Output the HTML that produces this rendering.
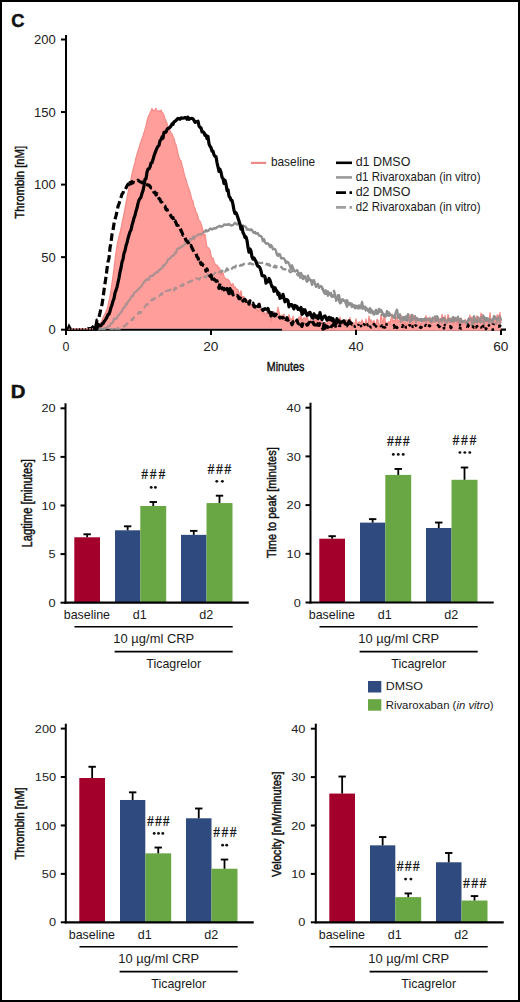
<!DOCTYPE html>
<html><head><meta charset="utf-8"><style>
html,body{margin:0;padding:0;background:#fff;width:520px;height:1002px;overflow:hidden}
svg{display:block}
svg{font-family:"Liberation Sans",sans-serif}
</style></head><body>
<svg width="520" height="1002" viewBox="0 0 520 1002">
<rect x="1" y="1" width="518" height="1000" fill="none" stroke="#000" stroke-width="2"/>
<text transform="translate(11.17,27.30) scale(0.9636,1)" font-size="19" font-weight="bold" fill="#111" stroke="#111" stroke-width="0.5">C</text>
<text transform="translate(10.78,397.90) scale(1.0699,1)" font-size="19" font-weight="bold" fill="#111" stroke="#111" stroke-width="0.5">D</text>
<defs><clipPath id="cc"><rect x="66" y="30" width="445" height="299.7"/></clipPath><clipPath id="cc2"><rect x="66" y="30" width="445" height="301"/></clipPath></defs>
<line x1="65.00" y1="329.70" x2="506.00" y2="329.70" stroke="#000" stroke-width="2.2"/>
<g clip-path="url(#cc)">
<path d="M66.0,330.2 L67.0,330.2 L68.0,330.2 L69.0,330.2 L70.0,330.2 L71.0,330.2 L72.0,330.2 L73.0,330.2 L74.0,330.2 L75.0,330.2 L76.0,330.2 L77.0,330.2 L78.0,330.2 L79.0,330.2 L80.0,330.2 L81.0,330.2 L82.0,330.2 L83.0,330.2 L84.0,330.2 L85.0,330.2 L86.0,330.2 L87.0,330.2 L88.0,329.6 L89.0,329.7 L90.0,329.5 L91.0,329.5 L92.0,329.6 L93.0,329.3 L94.0,329.4 L95.0,329.3 L96.0,329.4 L97.0,329.3 L98.0,329.4 L99.0,329.3 L100.0,329.3 L101.0,329.2 L102.0,329.0 L103.0,329.0 L104.0,328.3 L105.0,328.4 L106.0,327.7 L107.0,327.1 L108.0,326.7 L109.0,326.0 L110.0,325.9 L111.0,323.4 L112.0,323.3 L113.0,322.1 L114.0,318.6 L115.0,318.8 L116.0,318.9 L117.0,317.8 L118.0,315.6 L119.0,315.1 L120.0,313.6 L121.0,312.0 L122.0,311.4 L123.0,308.3 L124.0,307.6 L125.0,306.6 L126.0,303.8 L127.0,304.4 L128.0,301.5 L129.0,300.5 L130.0,299.7 L131.0,297.1 L132.0,295.9 L133.0,296.1 L134.0,293.0 L135.0,292.3 L136.0,291.7 L137.0,290.6 L138.0,289.5 L139.0,288.3 L140.0,287.9 L141.0,286.6 L142.0,285.3 L143.0,283.4 L144.0,282.4 L145.0,280.6 L146.0,280.7 L147.0,278.8 L148.0,279.8 L149.0,279.7 L150.0,276.0 L151.0,276.3 L152.0,275.7 L153.0,275.8 L154.0,273.9 L155.0,273.6 L156.0,272.6 L157.0,271.9 L158.0,272.2 L159.0,269.7 L160.0,269.6 L161.0,268.7 L162.0,268.1 L163.0,265.5 L164.0,266.1 L165.0,264.5 L166.0,263.5 L167.0,261.9 L168.0,259.5 L169.0,258.9 L170.0,258.8 L171.0,257.1 L172.0,255.8 L173.0,256.0 L174.0,255.2 L175.0,252.6 L176.0,253.0 L177.0,249.3 L178.0,248.4 L179.0,248.6 L180.0,247.9 L181.0,246.6 L182.0,246.7 L183.0,245.6 L184.0,245.4 L185.0,244.2 L186.0,242.3 L187.0,242.8 L188.0,242.0 L189.0,242.5 L190.0,238.8 L191.0,239.8 L192.0,238.8 L193.0,236.7 L194.0,239.0 L195.0,236.4 L196.0,236.3 L197.0,235.5 L198.0,235.1 L199.0,234.1 L200.0,234.0 L201.0,234.7 L202.0,233.7 L203.0,232.6 L204.0,231.8 L205.0,231.6 L206.0,230.2 L207.0,231.3 L208.0,230.7 L209.0,230.2 L210.0,228.7 L211.0,228.8 L212.0,229.4 L213.0,228.9 L214.0,228.0 L215.0,228.4 L216.0,228.4 L217.0,227.0 L218.0,226.8 L219.0,226.3 L220.0,225.8 L221.0,226.8 L222.0,226.4 L223.0,226.0 L224.0,224.7 L225.0,224.5 L226.0,225.0 L227.0,224.6 L228.0,224.8 L229.0,224.0 L230.0,224.8 L231.0,225.5 L232.0,225.2 L233.0,225.1 L234.0,223.9 L235.0,222.8 L236.0,223.5 L237.0,224.5 L238.0,223.8 L239.0,224.0 L240.0,224.1 L241.0,225.5 L242.0,225.7 L243.0,225.5 L244.0,226.0 L245.0,226.5 L246.0,227.1 L247.0,229.7 L248.0,229.1 L249.0,229.8 L250.0,230.1 L251.0,229.4 L252.0,230.0 L253.0,232.0 L254.0,232.9 L255.0,231.9 L256.0,233.7 L257.0,233.3 L258.0,233.4 L259.0,235.6 L260.0,235.8 L261.0,236.1 L262.0,237.7 L263.0,241.1 L264.0,239.1 L265.0,242.4 L266.0,243.6 L267.0,243.0 L268.0,243.5 L269.0,244.7 L270.0,247.2 L271.0,244.9 L272.0,246.6 L273.0,249.3 L274.0,248.8 L275.0,249.1 L276.0,251.0 L277.0,255.1 L278.0,255.8 L279.0,253.9 L280.0,254.4 L281.0,258.1 L282.0,258.4 L283.0,258.0 L284.0,258.5 L285.0,260.2 L286.0,263.1 L287.0,261.7 L288.0,262.2 L289.0,263.7 L290.0,266.5 L291.0,269.1 L292.0,265.4 L293.0,267.9 L294.0,270.7 L295.0,271.4 L296.0,270.9 L297.0,270.1 L298.0,272.1 L299.0,273.5 L300.0,273.6 L301.0,273.0 L302.0,275.7 L303.0,275.9 L304.0,277.4 L305.0,276.5 L306.0,279.7 L307.0,281.7 L308.0,280.3 L309.0,278.4 L310.0,279.6 L311.0,281.0 L312.0,280.5 L313.0,281.8 L314.0,280.2 L315.0,284.1 L316.0,285.4 L317.0,284.5 L318.0,283.9 L319.0,287.9 L320.0,287.0 L321.0,286.0 L322.0,287.1 L323.0,289.6 L324.0,290.8 L325.0,293.8 L326.0,290.5 L327.0,292.9 L328.0,295.8 L329.0,293.5 L330.0,294.0 L331.0,293.2 L332.0,295.8 L333.0,296.1 L334.0,295.2 L335.0,296.1 L336.0,299.4 L337.0,299.1 L338.0,296.5 L339.0,295.1 L340.0,301.2 L341.0,301.7 L342.0,299.5 L343.0,299.4 L344.0,301.0 L345.0,300.7 L346.0,304.3 L347.0,300.2 L348.0,302.6 L349.0,304.8 L350.0,303.9 L351.0,304.4 L352.0,307.0 L353.0,305.8 L354.0,305.2 L355.0,308.3 L356.0,305.8 L357.0,307.4 L358.0,305.9 L359.0,305.4 L360.0,308.2 L361.0,307.2 L362.0,301.9 L363.0,307.6 L364.0,307.6 L365.0,308.5 L366.0,307.9 L367.0,308.6 L368.0,310.9 L369.0,309.3 L370.0,308.2 L371.0,309.9 L372.0,310.9 L373.0,312.5 L374.0,313.1 L375.0,312.5 L376.0,309.8 L377.0,313.7 L378.0,313.6 L379.0,308.8 L380.0,311.9 L381.0,309.9 L382.0,311.8 L383.0,314.0 L384.0,314.7 L385.0,316.6 L386.0,316.3 L387.0,311.0 L388.0,312.7 L389.0,312.5 L390.0,315.0 L391.0,314.9 L392.0,315.7 L393.0,317.2 L394.0,317.5 L395.0,315.4 L396.0,311.8 L397.0,309.7 L398.0,316.4 L399.0,315.9 L400.0,314.5 L401.0,321.9 L402.0,318.7 L403.0,317.1 L404.0,317.0 L405.0,320.0 L406.0,316.3 L407.0,320.7 L408.0,314.1 L409.0,319.3 L410.0,322.5 L411.0,317.9 L412.0,314.8 L413.0,317.7 L414.0,318.4 L415.0,316.2 L416.0,322.3 L417.0,319.5 L418.0,319.6 L419.0,319.8 L420.0,319.2 L421.0,318.9 L422.0,321.4 L423.0,319.2 L424.0,319.1 L425.0,319.5 L426.0,321.5 L427.0,319.2 L428.0,318.7 L429.0,320.2 L430.0,320.7 L431.0,322.0 L432.0,319.4 L433.0,317.6 L434.0,319.7 L435.0,321.7 L436.0,320.6 L437.0,316.2 L438.0,318.0 L439.0,322.6 L440.0,320.3 L441.0,319.2 L442.0,322.3 L443.0,320.0 L444.0,317.9 L445.0,321.4 L446.0,321.9 L447.0,322.6 L448.0,319.4 L449.0,319.1 L450.0,319.5 L451.0,319.0 L452.0,321.6 L453.0,317.1 L454.0,320.7 L455.0,317.8 L456.0,320.4 L457.0,319.6 L458.0,319.7 L459.0,322.8 L460.0,319.4 L461.0,319.2 L462.0,322.0 L463.0,321.9 L464.0,321.1 L465.0,320.9 L466.0,323.5 L467.0,323.2 L468.0,320.2 L469.0,318.4 L470.0,319.8 L471.0,318.5 L472.0,323.8 L473.0,322.0 L474.0,316.3 L475.0,319.5 L476.0,320.9 L477.0,319.9 L478.0,321.8 L479.0,321.5 L480.0,322.1 L481.0,317.0 L482.0,317.4 L483.0,315.4 L484.0,324.0 L485.0,317.8 L486.0,320.3 L487.0,318.2 L488.0,318.8 L489.0,322.7 L490.0,320.0 L491.0,320.6 L492.0,323.9 L493.0,321.2 L494.0,316.0 L495.0,316.8 L496.0,319.2 L497.0,319.0 L498.0,317.9 L499.0,316.7 L500.0,316.9 L501.0,320.6" fill="none" stroke="#9a9a9a" stroke-width="2.2" stroke-linejoin="round"/>
<path d="M66.0,330.2 L67.0,330.2 L68.0,330.2 L69.0,330.2 L70.0,330.2 L71.0,330.2 L72.0,330.2 L73.0,330.2 L74.0,330.2 L75.0,330.2 L76.0,330.2 L77.0,330.2 L78.0,330.2 L79.0,330.2 L80.0,330.2 L81.0,330.2 L82.0,330.2 L83.0,330.2 L84.0,330.2 L85.0,330.2 L86.0,330.2 L87.0,330.2 L88.0,329.6 L89.0,329.3 L90.0,329.3 L91.0,329.1 L92.0,329.2 L93.0,329.2 L94.0,329.1 L95.0,329.4 L96.0,329.4 L97.0,329.5 L98.0,329.5 L99.0,329.4 L100.0,329.4 L101.0,329.5 L102.0,329.3 L103.0,329.2 L104.0,329.4 L105.0,329.3 L106.0,329.3 L107.0,329.4 L108.0,329.6 L109.0,329.3 L110.0,329.2 L111.0,329.0 L112.0,329.3 L113.0,330.8 L114.0,327.0 L115.0,329.5 L116.0,329.2 L117.0,328.7 L118.0,327.9 L119.0,329.9 L120.0,328.8 L121.0,327.7 L122.0,327.5 L123.0,326.4 L124.0,326.5 L125.0,325.8 L126.0,325.2 L127.0,323.4 L128.0,323.5 L129.0,323.2 L130.0,321.0 L131.0,321.0 L132.0,318.8 L133.0,319.6 L134.0,317.2 L135.0,316.4 L136.0,316.1 L137.0,315.5 L138.0,313.7 L139.0,311.9 L140.0,313.1 L141.0,312.2 L142.0,309.7 L143.0,308.9 L144.0,307.7 L145.0,306.7 L146.0,305.3 L147.0,304.1 L148.0,304.2 L149.0,303.6 L150.0,303.8 L151.0,300.9 L152.0,299.3 L153.0,300.0 L154.0,298.8 L155.0,298.2 L156.0,297.3 L157.0,296.1 L158.0,295.8 L159.0,296.3 L160.0,295.3 L161.0,293.9 L162.0,294.6 L163.0,291.6 L164.0,292.6 L165.0,292.6 L166.0,291.0 L167.0,290.7 L168.0,290.3 L169.0,290.6 L170.0,290.0 L171.0,289.4 L172.0,288.6 L173.0,288.4 L174.0,290.7 L175.0,287.7 L176.0,288.9 L177.0,287.1 L178.0,288.1 L179.0,287.6 L180.0,286.7 L181.0,285.5 L182.0,284.6 L183.0,285.8 L184.0,283.7 L185.0,283.2 L186.0,283.7 L187.0,284.2 L188.0,282.7 L189.0,282.0 L190.0,281.3 L191.0,281.6 L192.0,280.6 L193.0,279.5 L194.0,279.2 L195.0,280.0 L196.0,278.3 L197.0,278.4 L198.0,278.9 L199.0,279.6 L200.0,278.2 L201.0,277.8 L202.0,278.8 L203.0,276.4 L204.0,276.4 L205.0,277.2 L206.0,277.0 L207.0,276.3 L208.0,273.8 L209.0,275.9 L210.0,275.2 L211.0,274.9 L212.0,275.0 L213.0,275.3 L214.0,274.1 L215.0,273.1 L216.0,270.7 L217.0,272.2 L218.0,272.5 L219.0,272.3 L220.0,271.6 L221.0,272.3 L222.0,270.6 L223.0,271.8 L224.0,269.9 L225.0,271.5 L226.0,270.7 L227.0,268.4 L228.0,270.1 L229.0,267.9 L230.0,268.1 L231.0,269.3 L232.0,268.6 L233.0,267.4 L234.0,266.9 L235.0,267.4 L236.0,265.7 L237.0,266.9 L238.0,266.2 L239.0,266.6 L240.0,265.7 L241.0,264.8 L242.0,265.4 L243.0,264.8 L244.0,263.8 L245.0,263.8 L246.0,263.7 L247.0,264.3 L248.0,263.1 L249.0,264.0 L250.0,263.1 L251.0,263.6 L252.0,264.2 L253.0,264.4 L254.0,262.9 L255.0,263.7 L256.0,263.2 L257.0,261.9 L258.0,262.5 L259.0,262.9 L260.0,263.0 L261.0,263.0 L262.0,262.9 L263.0,262.5 L264.0,262.9 L265.0,262.6 L266.0,264.3 L267.0,263.8 L268.0,265.0 L269.0,264.2 L270.0,265.9 L271.0,264.4 L272.0,264.6 L273.0,266.2 L274.0,267.2 L275.0,265.7 L276.0,267.6 L277.0,266.2 L278.0,266.6 L279.0,267.2 L280.0,266.2 L281.0,266.9 L282.0,267.8 L283.0,269.1 L284.0,269.1 L285.0,269.1 L286.0,270.0 L287.0,269.2 L288.0,271.0 L289.0,270.3 L290.0,272.2 L291.0,271.7 L292.0,271.3 L293.0,270.8 L294.0,271.5 L295.0,273.1 L296.0,272.8 L297.0,273.9 L298.0,275.3 L299.0,275.3 L300.0,276.4 L301.0,280.4 L302.0,277.9 L303.0,279.1 L304.0,277.6 L305.0,276.7 L306.0,279.6 L307.0,278.0 L308.0,275.6 L309.0,282.0 L310.0,282.2 L311.0,280.5 L312.0,284.9 L313.0,283.2 L314.0,283.2 L315.0,283.0 L316.0,287.0 L317.0,285.2 L318.0,285.8 L319.0,286.8 L320.0,287.2 L321.0,286.6 L322.0,288.9 L323.0,289.4 L324.0,292.6 L325.0,289.4 L326.0,293.9 L327.0,292.5 L328.0,291.5 L329.0,294.2 L330.0,291.7 L331.0,295.7 L332.0,296.9 L333.0,296.7 L334.0,290.8 L335.0,294.7 L336.0,300.9 L337.0,298.7 L338.0,295.0 L339.0,300.3 L340.0,303.3 L341.0,302.6 L342.0,302.0 L343.0,302.5 L344.0,303.9 L345.0,303.1 L346.0,303.1 L347.0,306.8 L348.0,304.0 L349.0,305.8 L350.0,303.0 L351.0,303.7 L352.0,303.9 L353.0,307.0 L354.0,304.8 L355.0,304.8 L356.0,306.6 L357.0,307.7 L358.0,308.4 L359.0,307.8 L360.0,310.0 L361.0,307.9 L362.0,305.1 L363.0,310.5 L364.0,310.6 L365.0,306.5 L366.0,311.3 L367.0,312.3 L368.0,311.1 L369.0,312.3 L370.0,309.6 L371.0,312.8 L372.0,309.4 L373.0,313.4 L374.0,314.6 L375.0,310.7 L376.0,313.7 L377.0,312.1 L378.0,311.0 L379.0,310.4 L380.0,314.2 L381.0,313.8 L382.0,315.0 L383.0,314.3 L384.0,316.0 L385.0,313.6 L386.0,314.6 L387.0,311.5 L388.0,315.3 L389.0,316.0 L390.0,315.8 L391.0,316.6 L392.0,317.9 L393.0,315.7 L394.0,316.2 L395.0,318.4 L396.0,317.0 L397.0,316.1 L398.0,319.0 L399.0,316.1 L400.0,318.8 L401.0,316.8 L402.0,318.1 L403.0,319.8 L404.0,320.1 L405.0,318.8 L406.0,319.3 L407.0,320.1 L408.0,320.4 L409.0,320.6 L410.0,318.5 L411.0,320.9 L412.0,318.7 L413.0,319.4 L414.0,320.4 L415.0,321.0 L416.0,318.6 L417.0,318.0 L418.0,320.0 L419.0,320.3 L420.0,320.6 L421.0,317.8 L422.0,320.7 L423.0,320.8 L424.0,320.3 L425.0,318.4 L426.0,318.8 L427.0,320.1 L428.0,318.8 L429.0,317.3 L430.0,319.7 L431.0,321.4 L432.0,322.0 L433.0,320.2 L434.0,319.6 L435.0,316.5 L436.0,320.8 L437.0,320.0 L438.0,318.6 L439.0,318.6 L440.0,318.9 L441.0,319.8 L442.0,318.7 L443.0,318.2 L444.0,318.4 L445.0,319.6 L446.0,321.0 L447.0,319.4 L448.0,320.9 L449.0,318.8 L450.0,322.1 L451.0,318.5 L452.0,321.1 L453.0,321.3 L454.0,321.3 L455.0,317.2 L456.0,320.7 L457.0,318.7 L458.0,316.7 L459.0,321.3 L460.0,319.1 L461.0,322.3 L462.0,322.2 L463.0,321.1 L464.0,320.1 L465.0,320.3 L466.0,322.3 L467.0,323.1 L468.0,322.0 L469.0,319.9 L470.0,319.7 L471.0,320.2 L472.0,325.1 L473.0,324.1 L474.0,323.0 L475.0,321.1 L476.0,324.2 L477.0,321.5 L478.0,317.2 L479.0,320.2 L480.0,318.6 L481.0,322.6 L482.0,321.0 L483.0,321.0 L484.0,316.9 L485.0,319.2 L486.0,319.2 L487.0,323.2 L488.0,322.3 L489.0,320.2 L490.0,319.4 L491.0,319.6 L492.0,319.9 L493.0,319.9 L494.0,318.6 L495.0,322.3 L496.0,323.8 L497.0,321.7 L498.0,315.9 L499.0,320.6 L500.0,323.0 L501.0,321.2" fill="none" stroke="#a0a0a0" stroke-width="2.2" stroke-dasharray="7 4" stroke-linejoin="round"/>
</g>
<path d="M66.0,330.2 L67.0,330.2 L68.0,330.2 L69.0,330.2 L70.0,330.2 L71.0,330.2 L72.0,330.2 L73.0,330.2 L74.0,330.2 L75.0,330.2 L76.0,330.2 L77.0,330.2 L78.0,330.2 L79.0,330.2 L80.0,330.2 L81.0,330.2 L82.0,330.2 L83.0,330.2 L84.0,330.2 L85.0,330.2 L86.0,330.2 L87.0,330.2 L88.0,329.4 L89.0,328.7 L90.0,329.0 L91.0,329.0 L92.0,328.3 L93.0,328.5 L94.0,328.8 L95.0,327.5 L96.0,327.6 L97.0,327.3 L98.0,325.7 L99.0,324.7 L100.0,323.9 L101.0,322.5 L102.0,320.6 L103.0,317.8 L104.0,315.8 L105.0,313.8 L106.0,311.3 L107.0,309.1 L108.0,305.3 L109.0,300.9 L110.0,296.3 L111.0,290.0 L112.0,283.2 L113.0,276.2 L114.0,268.3 L115.0,260.0 L116.0,252.1 L117.0,245.9 L118.0,240.8 L119.0,236.3 L120.0,232.6 L121.0,228.5 L122.0,223.3 L123.0,218.6 L124.0,213.5 L125.0,208.2 L126.0,203.1 L127.0,198.2 L128.0,192.7 L129.0,188.0 L130.0,183.4 L131.0,178.9 L132.0,174.1 L133.0,169.8 L134.0,165.9 L135.0,162.4 L136.0,157.7 L137.0,154.2 L138.0,150.9 L139.0,148.0 L140.0,144.3 L141.0,141.7 L142.0,138.4 L143.0,135.9 L144.0,132.6 L145.0,129.3 L146.0,125.7 L147.0,121.1 L148.0,117.6 L149.0,115.3 L150.0,113.2 L151.0,111.0 L152.0,108.6 L153.0,110.8 L154.0,110.4 L155.0,109.8 L156.0,108.4 L157.0,110.7 L158.0,111.5 L159.0,110.6 L160.0,111.4 L161.0,110.1 L162.0,112.0 L163.0,113.3 L164.0,115.3 L165.0,118.7 L166.0,120.8 L167.0,123.5 L168.0,125.9 L169.0,128.2 L170.0,130.5 L171.0,132.8 L172.0,133.9 L173.0,136.7 L174.0,138.3 L175.0,142.8 L176.0,144.8 L177.0,148.7 L178.0,153.6 L179.0,157.5 L180.0,159.6 L181.0,160.7 L182.0,165.2 L183.0,168.4 L184.0,173.1 L185.0,176.9 L186.0,179.5 L187.0,183.4 L188.0,186.4 L189.0,189.0 L190.0,192.2 L191.0,195.9 L192.0,199.9 L193.0,201.1 L194.0,206.8 L195.0,208.1 L196.0,212.3 L197.0,213.5 L198.0,217.0 L199.0,220.7 L200.0,221.0 L201.0,223.6 L202.0,226.9 L203.0,230.1 L204.0,235.8 L205.0,234.2 L206.0,241.1 L207.0,247.2 L208.0,247.5 L209.0,248.7 L210.0,250.1 L211.0,255.1 L212.0,258.7 L213.0,257.9 L214.0,261.7 L215.0,264.0 L216.0,264.9 L217.0,265.0 L218.0,266.7 L219.0,267.5 L220.0,269.3 L221.0,275.3 L222.0,272.3 L223.0,272.7 L224.0,276.4 L225.0,278.1 L226.0,279.2 L227.0,278.9 L228.0,279.5 L229.0,280.6 L230.0,282.3 L231.0,285.8 L232.0,283.9 L233.0,283.6 L234.0,287.2 L235.0,286.7 L236.0,288.5 L237.0,289.3 L238.0,289.5 L239.0,293.1 L240.0,295.4 L241.0,290.6 L242.0,297.3 L243.0,296.6 L244.0,296.7 L245.0,300.0 L246.0,299.8 L247.0,300.3 L248.0,300.0 L249.0,301.4 L250.0,302.8 L251.0,304.2 L252.0,306.6 L253.0,305.7 L254.0,307.3 L255.0,307.0 L256.0,309.0 L257.0,308.8 L258.0,311.5 L259.0,310.4 L260.0,303.2 L261.0,310.6 L262.0,310.3 L263.0,314.0 L264.0,312.1 L265.0,314.5 L266.0,314.5 L267.0,309.9 L268.0,312.6 L269.0,313.7 L270.0,311.3 L271.0,322.3 L272.0,315.8 L273.0,311.8 L274.0,311.8 L275.0,315.8 L276.0,314.9 L277.0,312.5 L278.0,307.2 L279.0,311.6 L280.0,316.1 L281.0,318.5 L282.0,314.8 L283.0,320.7 L284.0,313.9 L285.0,319.9 L286.0,316.7 L287.0,316.6 L288.0,321.3 L289.0,314.5 L290.0,319.1 L291.0,318.6 L292.0,322.5 L293.0,316.2 L294.0,320.7 L295.0,321.1 L296.0,320.1 L297.0,319.9 L298.0,319.9 L299.0,316.9 L300.0,319.3 L301.0,314.9 L302.0,323.0 L303.0,318.8 L304.0,317.5 L305.0,318.4 L306.0,320.7 L307.0,314.4 L308.0,319.6 L309.0,322.8 L310.0,321.3 L311.0,319.0 L312.0,323.3 L313.0,321.3 L314.0,320.7 L315.0,319.0 L316.0,323.3 L317.0,318.9 L318.0,319.7 L319.0,321.6 L320.0,320.9 L321.0,320.3 L322.0,320.0 L323.0,326.8 L324.0,323.5 L325.0,325.0 L326.0,322.2 L327.0,328.1 L328.0,320.0 L329.0,318.9 L330.0,319.7 L331.0,323.2 L332.0,320.8 L333.0,322.9 L334.0,321.0 L335.0,322.3 L336.0,324.8 L337.0,320.0 L338.0,324.8 L339.0,323.5 L340.0,317.2 L341.0,320.5 L342.0,323.8 L343.0,323.1 L344.0,326.1 L345.0,322.4 L346.0,319.6 L347.0,322.2 L348.0,321.9 L349.0,324.8 L350.0,317.5 L351.0,321.5 L352.0,329.2 L353.0,322.3 L354.0,324.4 L355.0,323.7 L356.0,318.8 L357.0,323.2 L358.0,323.7 L359.0,321.9 L360.0,321.9 L361.0,323.8 L362.0,319.9 L363.0,321.8 L364.0,326.5 L365.0,326.5 L366.0,318.8 L367.0,323.9 L368.0,323.8 L369.0,316.2 L370.0,321.5 L371.0,319.7 L372.0,321.3 L373.0,323.8 L374.0,320.3 L375.0,325.3 L376.0,323.4 L377.0,319.3 L378.0,320.1 L379.0,328.7 L380.0,323.4 L381.0,314.5 L382.0,319.6 L383.0,323.9 L384.0,316.5 L385.0,318.4 L386.0,327.1 L387.0,322.2 L388.0,323.9 L389.0,321.3 L390.0,324.4 L391.0,319.1 L392.0,314.1 L393.0,322.0 L394.0,320.4 L395.0,321.4 L396.0,317.1 L397.0,316.8 L398.0,322.0 L399.0,320.7 L400.0,322.5 L401.0,315.4 L402.0,320.8 L403.0,321.1 L404.0,325.7 L405.0,321.0 L406.0,325.6 L407.0,323.1 L408.0,319.7 L409.0,317.4 L410.0,314.7 L411.0,322.1 L412.0,324.3 L413.0,317.3 L414.0,315.4 L415.0,319.5 L416.0,320.5 L417.0,319.6 L418.0,318.3 L419.0,319.7 L420.0,322.4 L421.0,325.5 L422.0,322.6 L423.0,319.8 L424.0,321.6 L425.0,319.8 L426.0,315.7 L427.0,321.6 L428.0,318.0 L429.0,322.2 L430.0,317.2 L431.0,323.9 L432.0,322.2 L433.0,320.5 L434.0,318.1 L435.0,316.4 L436.0,317.3 L437.0,319.9 L438.0,321.4 L439.0,320.4 L440.0,318.5 L441.0,320.6 L442.0,314.4 L443.0,318.6 L444.0,321.1 L445.0,315.6 L446.0,320.2 L447.0,321.8 L448.0,314.3 L449.0,318.7 L450.0,318.2 L451.0,321.1 L452.0,319.4 L453.0,322.1 L454.0,323.8 L455.0,318.4 L456.0,317.5 L457.0,324.3 L458.0,319.4 L459.0,322.1 L460.0,321.2 L461.0,317.9 L462.0,322.0 L463.0,324.4 L464.0,324.3 L465.0,319.5 L466.0,320.8 L467.0,322.7 L468.0,324.1 L469.0,319.6 L470.0,315.0 L471.0,322.1 L472.0,316.9 L473.0,322.0 L474.0,320.3 L475.0,324.7 L476.0,318.5 L477.0,315.7 L478.0,323.0 L479.0,319.2 L480.0,320.7 L481.0,313.1 L482.0,314.5 L483.0,326.5 L484.0,319.5 L485.0,321.2 L486.0,320.6 L487.0,323.3 L488.0,321.0 L489.0,322.3 L490.0,312.7 L491.0,321.7 L492.0,319.1 L493.0,323.6 L494.0,323.1 L495.0,320.2 L496.0,320.2 L497.0,315.2 L498.0,315.0 L499.0,318.1 L500.0,312.4 L501.0,323.1 L501.0,330.8 L282,330.8 L282,328.6 L66,328.6 Z" fill="#ff9e9b" stroke="none"/>
<path d="M66.0,330.2 L67.0,330.2 L68.0,330.2 L69.0,330.2 L70.0,330.2 L71.0,330.2 L72.0,330.2 L73.0,330.2 L74.0,330.2 L75.0,330.2 L76.0,330.2 L77.0,330.2 L78.0,330.2 L79.0,330.2 L80.0,330.2 L81.0,330.2 L82.0,330.2 L83.0,330.2 L84.0,330.2 L85.0,330.2 L86.0,330.2 L87.0,330.2 L88.0,329.4 L89.0,328.7 L90.0,329.0 L91.0,329.0 L92.0,328.3 L93.0,328.5 L94.0,328.8 L95.0,327.5 L96.0,327.6 L97.0,327.3 L98.0,325.7 L99.0,324.7 L100.0,323.9 L101.0,322.5 L102.0,320.6 L103.0,317.8 L104.0,315.8 L105.0,313.8 L106.0,311.3 L107.0,309.1 L108.0,305.3 L109.0,300.9 L110.0,296.3 L111.0,290.0 L112.0,283.2 L113.0,276.2 L114.0,268.3 L115.0,260.0 L116.0,252.1 L117.0,245.9 L118.0,240.8 L119.0,236.3 L120.0,232.6 L121.0,228.5 L122.0,223.3 L123.0,218.6 L124.0,213.5 L125.0,208.2 L126.0,203.1 L127.0,198.2 L128.0,192.7 L129.0,188.0 L130.0,183.4 L131.0,178.9 L132.0,174.1 L133.0,169.8 L134.0,165.9 L135.0,162.4 L136.0,157.7 L137.0,154.2 L138.0,150.9 L139.0,148.0 L140.0,144.3 L141.0,141.7 L142.0,138.4 L143.0,135.9 L144.0,132.6 L145.0,129.3 L146.0,125.7 L147.0,121.1 L148.0,117.6 L149.0,115.3 L150.0,113.2 L151.0,111.0 L152.0,108.6 L153.0,110.8 L154.0,110.4 L155.0,109.8 L156.0,108.4 L157.0,110.7 L158.0,111.5 L159.0,110.6 L160.0,111.4 L161.0,110.1 L162.0,112.0 L163.0,113.3 L164.0,115.3 L165.0,118.7 L166.0,120.8 L167.0,123.5 L168.0,125.9 L169.0,128.2 L170.0,130.5 L171.0,132.8 L172.0,133.9 L173.0,136.7 L174.0,138.3 L175.0,142.8 L176.0,144.8 L177.0,148.7 L178.0,153.6 L179.0,157.5 L180.0,159.6 L181.0,160.7 L182.0,165.2 L183.0,168.4 L184.0,173.1 L185.0,176.9 L186.0,179.5 L187.0,183.4 L188.0,186.4 L189.0,189.0 L190.0,192.2 L191.0,195.9 L192.0,199.9 L193.0,201.1 L194.0,206.8 L195.0,208.1 L196.0,212.3 L197.0,213.5 L198.0,217.0 L199.0,220.7 L200.0,221.0 L201.0,223.6 L202.0,226.9 L203.0,230.1 L204.0,235.8 L205.0,234.2 L206.0,241.1 L207.0,247.2 L208.0,247.5 L209.0,248.7 L210.0,250.1 L211.0,255.1 L212.0,258.7 L213.0,257.9 L214.0,261.7 L215.0,264.0 L216.0,264.9 L217.0,265.0 L218.0,266.7 L219.0,267.5 L220.0,269.3 L221.0,275.3 L222.0,272.3 L223.0,272.7 L224.0,276.4 L225.0,278.1 L226.0,279.2 L227.0,278.9 L228.0,279.5 L229.0,280.6 L230.0,282.3 L231.0,285.8 L232.0,283.9 L233.0,283.6 L234.0,287.2 L235.0,286.7 L236.0,288.5 L237.0,289.3 L238.0,289.5 L239.0,293.1 L240.0,295.4 L241.0,290.6 L242.0,297.3 L243.0,296.6 L244.0,296.7 L245.0,300.0 L246.0,299.8 L247.0,300.3 L248.0,300.0 L249.0,301.4 L250.0,302.8 L251.0,304.2 L252.0,306.6 L253.0,305.7 L254.0,307.3 L255.0,307.0 L256.0,309.0 L257.0,308.8 L258.0,311.5 L259.0,310.4 L260.0,303.2 L261.0,310.6 L262.0,310.3 L263.0,314.0 L264.0,312.1 L265.0,314.5 L266.0,314.5 L267.0,309.9 L268.0,312.6 L269.0,313.7 L270.0,311.3 L271.0,322.3 L272.0,315.8 L273.0,311.8 L274.0,311.8 L275.0,315.8 L276.0,314.9 L277.0,312.5 L278.0,307.2 L279.0,311.6 L280.0,316.1 L281.0,318.5 L282.0,314.8 L283.0,320.7 L284.0,313.9 L285.0,319.9 L286.0,316.7 L287.0,316.6 L288.0,321.3 L289.0,314.5 L290.0,319.1 L291.0,318.6 L292.0,322.5 L293.0,316.2 L294.0,320.7 L295.0,321.1 L296.0,320.1 L297.0,319.9 L298.0,319.9 L299.0,316.9 L300.0,319.3 L301.0,314.9 L302.0,323.0 L303.0,318.8 L304.0,317.5 L305.0,318.4 L306.0,320.7 L307.0,314.4 L308.0,319.6 L309.0,322.8 L310.0,321.3 L311.0,319.0 L312.0,323.3 L313.0,321.3 L314.0,320.7 L315.0,319.0 L316.0,323.3 L317.0,318.9 L318.0,319.7 L319.0,321.6 L320.0,320.9 L321.0,320.3 L322.0,320.0 L323.0,326.8 L324.0,323.5 L325.0,325.0 L326.0,322.2 L327.0,328.1 L328.0,320.0 L329.0,318.9 L330.0,319.7 L331.0,323.2 L332.0,320.8 L333.0,322.9 L334.0,321.0 L335.0,322.3 L336.0,324.8 L337.0,320.0 L338.0,324.8 L339.0,323.5 L340.0,317.2 L341.0,320.5 L342.0,323.8 L343.0,323.1 L344.0,326.1 L345.0,322.4 L346.0,319.6 L347.0,322.2 L348.0,321.9 L349.0,324.8 L350.0,317.5 L351.0,321.5 L352.0,329.2 L353.0,322.3 L354.0,324.4 L355.0,323.7 L356.0,318.8 L357.0,323.2 L358.0,323.7 L359.0,321.9 L360.0,321.9 L361.0,323.8 L362.0,319.9 L363.0,321.8 L364.0,326.5 L365.0,326.5 L366.0,318.8 L367.0,323.9 L368.0,323.8 L369.0,316.2 L370.0,321.5 L371.0,319.7 L372.0,321.3 L373.0,323.8 L374.0,320.3 L375.0,325.3 L376.0,323.4 L377.0,319.3 L378.0,320.1 L379.0,328.7 L380.0,323.4 L381.0,314.5 L382.0,319.6 L383.0,323.9 L384.0,316.5 L385.0,318.4 L386.0,327.1 L387.0,322.2 L388.0,323.9 L389.0,321.3 L390.0,324.4 L391.0,319.1 L392.0,314.1 L393.0,322.0 L394.0,320.4 L395.0,321.4 L396.0,317.1 L397.0,316.8 L398.0,322.0 L399.0,320.7 L400.0,322.5 L401.0,315.4 L402.0,320.8 L403.0,321.1 L404.0,325.7 L405.0,321.0 L406.0,325.6 L407.0,323.1 L408.0,319.7 L409.0,317.4 L410.0,314.7 L411.0,322.1 L412.0,324.3 L413.0,317.3 L414.0,315.4 L415.0,319.5 L416.0,320.5 L417.0,319.6 L418.0,318.3 L419.0,319.7 L420.0,322.4 L421.0,325.5 L422.0,322.6 L423.0,319.8 L424.0,321.6 L425.0,319.8 L426.0,315.7 L427.0,321.6 L428.0,318.0 L429.0,322.2 L430.0,317.2 L431.0,323.9 L432.0,322.2 L433.0,320.5 L434.0,318.1 L435.0,316.4 L436.0,317.3 L437.0,319.9 L438.0,321.4 L439.0,320.4 L440.0,318.5 L441.0,320.6 L442.0,314.4 L443.0,318.6 L444.0,321.1 L445.0,315.6 L446.0,320.2 L447.0,321.8 L448.0,314.3 L449.0,318.7 L450.0,318.2 L451.0,321.1 L452.0,319.4 L453.0,322.1 L454.0,323.8 L455.0,318.4 L456.0,317.5 L457.0,324.3 L458.0,319.4 L459.0,322.1 L460.0,321.2 L461.0,317.9 L462.0,322.0 L463.0,324.4 L464.0,324.3 L465.0,319.5 L466.0,320.8 L467.0,322.7 L468.0,324.1 L469.0,319.6 L470.0,315.0 L471.0,322.1 L472.0,316.9 L473.0,322.0 L474.0,320.3 L475.0,324.7 L476.0,318.5 L477.0,315.7 L478.0,323.0 L479.0,319.2 L480.0,320.7 L481.0,313.1 L482.0,314.5 L483.0,326.5 L484.0,319.5 L485.0,321.2 L486.0,320.6 L487.0,323.3 L488.0,321.0 L489.0,322.3 L490.0,312.7 L491.0,321.7 L492.0,319.1 L493.0,323.6 L494.0,323.1 L495.0,320.2 L496.0,320.2 L497.0,315.2 L498.0,315.0 L499.0,318.1 L500.0,312.4 L501.0,323.1" fill="none" stroke="#f78a86" stroke-width="1.2" stroke-linejoin="round"/>
<g clip-path="url(#cc)">
<path d="M66.0,330.2 L67.0,330.2 L68.0,330.2 L69.0,330.2 L70.0,330.2 L71.0,330.2 L72.0,330.2 L73.0,330.2 L74.0,330.2 L75.0,330.2 L76.0,330.2 L77.0,330.2 L78.0,330.2 L79.0,330.2 L80.0,330.2 L81.0,330.2 L82.0,330.2 L83.0,330.2 L84.0,330.2 L85.0,330.2 L86.0,330.2 L87.0,330.2 L88.0,329.6 L89.0,329.7 L90.0,329.5 L91.0,329.5 L92.0,329.6 L93.0,329.3 L94.0,329.4 L95.0,329.3 L96.0,329.4 L97.0,329.3 L98.0,329.4 L99.0,329.3 L100.0,329.3 L101.0,329.2 L102.0,329.0 L103.0,329.0 L104.0,328.3 L105.0,328.4 L106.0,327.7 L107.0,327.1 L108.0,326.7 L109.0,326.0 L110.0,325.9 L111.0,323.4 L112.0,323.3 L113.0,322.1 L114.0,318.6 L115.0,318.8 L116.0,318.9 L117.0,317.8 L118.0,315.6 L119.0,315.1 L120.0,313.6 L121.0,312.0 L122.0,311.4 L123.0,308.3 L124.0,307.6 L125.0,306.6 L126.0,303.8 L127.0,304.4 L128.0,301.5 L129.0,300.5 L130.0,299.7 L131.0,297.1 L132.0,295.9 L133.0,296.1 L134.0,293.0 L135.0,292.3 L136.0,291.7 L137.0,290.6 L138.0,289.5 L139.0,288.3 L140.0,287.9 L141.0,286.6 L142.0,285.3 L143.0,283.4 L144.0,282.4 L145.0,280.6 L146.0,280.7 L147.0,278.8 L148.0,279.8 L149.0,279.7 L150.0,276.0 L151.0,276.3 L152.0,275.7 L153.0,275.8 L154.0,273.9 L155.0,273.6 L156.0,272.6 L157.0,271.9 L158.0,272.2 L159.0,269.7 L160.0,269.6 L161.0,268.7 L162.0,268.1 L163.0,265.5 L164.0,266.1 L165.0,264.5 L166.0,263.5 L167.0,261.9 L168.0,259.5 L169.0,258.9 L170.0,258.8 L171.0,257.1 L172.0,255.8 L173.0,256.0 L174.0,255.2 L175.0,252.6 L176.0,253.0 L177.0,249.3 L178.0,248.4 L179.0,248.6 L180.0,247.9 L181.0,246.6 L182.0,246.7 L183.0,245.6 L184.0,245.4 L185.0,244.2 L186.0,242.3 L187.0,242.8 L188.0,242.0 L189.0,242.5 L190.0,238.8 L191.0,239.8 L192.0,238.8 L193.0,236.7 L194.0,239.0 L195.0,236.4 L196.0,236.3 L197.0,235.5 L198.0,235.1 L199.0,234.1 L200.0,234.0 L201.0,234.7 L202.0,233.7 L203.0,232.6 L204.0,231.8 L205.0,231.6 L206.0,230.2 L207.0,231.3 L208.0,230.7 L209.0,230.2 L210.0,228.7 L211.0,228.8 L212.0,229.4 L213.0,228.9 L214.0,228.0 L215.0,228.4 L216.0,228.4 L217.0,227.0 L218.0,226.8 L219.0,226.3 L220.0,225.8 L221.0,226.8 L222.0,226.4 L223.0,226.0 L224.0,224.7 L225.0,224.5 L226.0,225.0 L227.0,224.6 L228.0,224.8 L229.0,224.0 L230.0,224.8 L231.0,225.5 L232.0,225.2 L233.0,225.1 L234.0,223.9 L235.0,222.8 L236.0,223.5 L237.0,224.5 L238.0,223.8 L239.0,224.0 L240.0,224.1 L241.0,225.5 L242.0,225.7 L243.0,225.5 L244.0,226.0 L245.0,226.5 L246.0,227.1 L247.0,229.7 L248.0,229.1 L249.0,229.8 L250.0,230.1 L251.0,229.4 L252.0,230.0 L253.0,232.0 L254.0,232.9 L255.0,231.9 L256.0,233.7 L257.0,233.3 L258.0,233.4 L259.0,235.6 L260.0,235.8 L261.0,236.1 L262.0,237.7 L263.0,241.1 L264.0,239.1 L265.0,242.4 L266.0,243.6 L267.0,243.0 L268.0,243.5 L269.0,244.7 L270.0,247.2 L271.0,244.9 L272.0,246.6 L273.0,249.3 L274.0,248.8 L275.0,249.1 L276.0,251.0 L277.0,255.1 L278.0,255.8 L279.0,253.9 L280.0,254.4 L281.0,258.1 L282.0,258.4 L283.0,258.0 L284.0,258.5 L285.0,260.2 L286.0,263.1 L287.0,261.7 L288.0,262.2 L289.0,263.7 L290.0,266.5 L291.0,269.1 L292.0,265.4 L293.0,267.9 L294.0,270.7 L295.0,271.4 L296.0,270.9 L297.0,270.1 L298.0,272.1 L299.0,273.5 L300.0,273.6 L301.0,273.0 L302.0,275.7 L303.0,275.9 L304.0,277.4 L305.0,276.5 L306.0,279.7 L307.0,281.7 L308.0,280.3 L309.0,278.4 L310.0,279.6 L311.0,281.0 L312.0,280.5 L313.0,281.8 L314.0,280.2 L315.0,284.1 L316.0,285.4 L317.0,284.5 L318.0,283.9 L319.0,287.9 L320.0,287.0 L321.0,286.0 L322.0,287.1 L323.0,289.6 L324.0,290.8 L325.0,293.8 L326.0,290.5 L327.0,292.9 L328.0,295.8 L329.0,293.5 L330.0,294.0 L331.0,293.2 L332.0,295.8 L333.0,296.1 L334.0,295.2 L335.0,296.1 L336.0,299.4 L337.0,299.1 L338.0,296.5 L339.0,295.1 L340.0,301.2 L341.0,301.7 L342.0,299.5 L343.0,299.4 L344.0,301.0 L345.0,300.7 L346.0,304.3 L347.0,300.2 L348.0,302.6 L349.0,304.8 L350.0,303.9 L351.0,304.4 L352.0,307.0 L353.0,305.8 L354.0,305.2 L355.0,308.3 L356.0,305.8 L357.0,307.4 L358.0,305.9 L359.0,305.4 L360.0,308.2 L361.0,307.2 L362.0,301.9 L363.0,307.6 L364.0,307.6 L365.0,308.5 L366.0,307.9 L367.0,308.6 L368.0,310.9 L369.0,309.3 L370.0,308.2 L371.0,309.9 L372.0,310.9 L373.0,312.5 L374.0,313.1 L375.0,312.5 L376.0,309.8 L377.0,313.7 L378.0,313.6 L379.0,308.8 L380.0,311.9 L381.0,309.9 L382.0,311.8 L383.0,314.0 L384.0,314.7 L385.0,316.6 L386.0,316.3 L387.0,311.0 L388.0,312.7 L389.0,312.5 L390.0,315.0 L391.0,314.9 L392.0,315.7 L393.0,317.2 L394.0,317.5 L395.0,315.4 L396.0,311.8 L397.0,309.7 L398.0,316.4 L399.0,315.9 L400.0,314.5 L401.0,321.9 L402.0,318.7 L403.0,317.1 L404.0,317.0 L405.0,320.0 L406.0,316.3 L407.0,320.7 L408.0,314.1 L409.0,319.3 L410.0,322.5 L411.0,317.9 L412.0,314.8 L413.0,317.7 L414.0,318.4 L415.0,316.2 L416.0,322.3 L417.0,319.5 L418.0,319.6 L419.0,319.8 L420.0,319.2 L421.0,318.9 L422.0,321.4 L423.0,319.2 L424.0,319.1 L425.0,319.5 L426.0,321.5 L427.0,319.2 L428.0,318.7 L429.0,320.2 L430.0,320.7 L431.0,322.0 L432.0,319.4 L433.0,317.6 L434.0,319.7 L435.0,321.7 L436.0,320.6 L437.0,316.2 L438.0,318.0 L439.0,322.6 L440.0,320.3 L441.0,319.2 L442.0,322.3 L443.0,320.0 L444.0,317.9 L445.0,321.4 L446.0,321.9 L447.0,322.6 L448.0,319.4 L449.0,319.1 L450.0,319.5 L451.0,319.0 L452.0,321.6 L453.0,317.1 L454.0,320.7 L455.0,317.8 L456.0,320.4 L457.0,319.6 L458.0,319.7 L459.0,322.8 L460.0,319.4 L461.0,319.2 L462.0,322.0 L463.0,321.9 L464.0,321.1 L465.0,320.9 L466.0,323.5 L467.0,323.2 L468.0,320.2 L469.0,318.4 L470.0,319.8 L471.0,318.5 L472.0,323.8 L473.0,322.0 L474.0,316.3 L475.0,319.5 L476.0,320.9 L477.0,319.9 L478.0,321.8 L479.0,321.5 L480.0,322.1 L481.0,317.0 L482.0,317.4 L483.0,315.4 L484.0,324.0 L485.0,317.8 L486.0,320.3 L487.0,318.2 L488.0,318.8 L489.0,322.7 L490.0,320.0 L491.0,320.6 L492.0,323.9 L493.0,321.2 L494.0,316.0 L495.0,316.8 L496.0,319.2 L497.0,319.0 L498.0,317.9 L499.0,316.7 L500.0,316.9 L501.0,320.6" fill="none" stroke="#8c8c8c" stroke-opacity="0.72" stroke-width="2.2" stroke-linejoin="round"/>
<path d="M66.0,330.2 L67.0,330.2 L68.0,330.2 L69.0,330.2 L70.0,330.2 L71.0,330.2 L72.0,330.2 L73.0,330.2 L74.0,330.2 L75.0,330.2 L76.0,330.2 L77.0,330.2 L78.0,330.2 L79.0,330.2 L80.0,330.2 L81.0,330.2 L82.0,330.2 L83.0,330.2 L84.0,330.2 L85.0,330.2 L86.0,330.2 L87.0,330.2 L88.0,329.6 L89.0,329.3 L90.0,329.3 L91.0,329.1 L92.0,329.2 L93.0,329.2 L94.0,329.1 L95.0,329.4 L96.0,329.4 L97.0,329.5 L98.0,329.5 L99.0,329.4 L100.0,329.4 L101.0,329.5 L102.0,329.3 L103.0,329.2 L104.0,329.4 L105.0,329.3 L106.0,329.3 L107.0,329.4 L108.0,329.6 L109.0,329.3 L110.0,329.2 L111.0,329.0 L112.0,329.3 L113.0,330.8 L114.0,327.0 L115.0,329.5 L116.0,329.2 L117.0,328.7 L118.0,327.9 L119.0,329.9 L120.0,328.8 L121.0,327.7 L122.0,327.5 L123.0,326.4 L124.0,326.5 L125.0,325.8 L126.0,325.2 L127.0,323.4 L128.0,323.5 L129.0,323.2 L130.0,321.0 L131.0,321.0 L132.0,318.8 L133.0,319.6 L134.0,317.2 L135.0,316.4 L136.0,316.1 L137.0,315.5 L138.0,313.7 L139.0,311.9 L140.0,313.1 L141.0,312.2 L142.0,309.7 L143.0,308.9 L144.0,307.7 L145.0,306.7 L146.0,305.3 L147.0,304.1 L148.0,304.2 L149.0,303.6 L150.0,303.8 L151.0,300.9 L152.0,299.3 L153.0,300.0 L154.0,298.8 L155.0,298.2 L156.0,297.3 L157.0,296.1 L158.0,295.8 L159.0,296.3 L160.0,295.3 L161.0,293.9 L162.0,294.6 L163.0,291.6 L164.0,292.6 L165.0,292.6 L166.0,291.0 L167.0,290.7 L168.0,290.3 L169.0,290.6 L170.0,290.0 L171.0,289.4 L172.0,288.6 L173.0,288.4 L174.0,290.7 L175.0,287.7 L176.0,288.9 L177.0,287.1 L178.0,288.1 L179.0,287.6 L180.0,286.7 L181.0,285.5 L182.0,284.6 L183.0,285.8 L184.0,283.7 L185.0,283.2 L186.0,283.7 L187.0,284.2 L188.0,282.7 L189.0,282.0 L190.0,281.3 L191.0,281.6 L192.0,280.6 L193.0,279.5 L194.0,279.2 L195.0,280.0 L196.0,278.3 L197.0,278.4 L198.0,278.9 L199.0,279.6 L200.0,278.2 L201.0,277.8 L202.0,278.8 L203.0,276.4 L204.0,276.4 L205.0,277.2 L206.0,277.0 L207.0,276.3 L208.0,273.8 L209.0,275.9 L210.0,275.2 L211.0,274.9 L212.0,275.0 L213.0,275.3 L214.0,274.1 L215.0,273.1 L216.0,270.7 L217.0,272.2 L218.0,272.5 L219.0,272.3 L220.0,271.6 L221.0,272.3 L222.0,270.6 L223.0,271.8 L224.0,269.9 L225.0,271.5 L226.0,270.7 L227.0,268.4 L228.0,270.1 L229.0,267.9 L230.0,268.1 L231.0,269.3 L232.0,268.6 L233.0,267.4 L234.0,266.9 L235.0,267.4 L236.0,265.7 L237.0,266.9 L238.0,266.2 L239.0,266.6 L240.0,265.7 L241.0,264.8 L242.0,265.4 L243.0,264.8 L244.0,263.8 L245.0,263.8 L246.0,263.7 L247.0,264.3 L248.0,263.1 L249.0,264.0 L250.0,263.1 L251.0,263.6 L252.0,264.2 L253.0,264.4 L254.0,262.9 L255.0,263.7 L256.0,263.2 L257.0,261.9 L258.0,262.5 L259.0,262.9 L260.0,263.0 L261.0,263.0 L262.0,262.9 L263.0,262.5 L264.0,262.9 L265.0,262.6 L266.0,264.3 L267.0,263.8 L268.0,265.0 L269.0,264.2 L270.0,265.9 L271.0,264.4 L272.0,264.6 L273.0,266.2 L274.0,267.2 L275.0,265.7 L276.0,267.6 L277.0,266.2 L278.0,266.6 L279.0,267.2 L280.0,266.2 L281.0,266.9 L282.0,267.8 L283.0,269.1 L284.0,269.1 L285.0,269.1 L286.0,270.0 L287.0,269.2 L288.0,271.0 L289.0,270.3 L290.0,272.2 L291.0,271.7 L292.0,271.3 L293.0,270.8 L294.0,271.5 L295.0,273.1 L296.0,272.8 L297.0,273.9 L298.0,275.3 L299.0,275.3 L300.0,276.4 L301.0,280.4 L302.0,277.9 L303.0,279.1 L304.0,277.6 L305.0,276.7 L306.0,279.6 L307.0,278.0 L308.0,275.6 L309.0,282.0 L310.0,282.2 L311.0,280.5 L312.0,284.9 L313.0,283.2 L314.0,283.2 L315.0,283.0 L316.0,287.0 L317.0,285.2 L318.0,285.8 L319.0,286.8 L320.0,287.2 L321.0,286.6 L322.0,288.9 L323.0,289.4 L324.0,292.6 L325.0,289.4 L326.0,293.9 L327.0,292.5 L328.0,291.5 L329.0,294.2 L330.0,291.7 L331.0,295.7 L332.0,296.9 L333.0,296.7 L334.0,290.8 L335.0,294.7 L336.0,300.9 L337.0,298.7 L338.0,295.0 L339.0,300.3 L340.0,303.3 L341.0,302.6 L342.0,302.0 L343.0,302.5 L344.0,303.9 L345.0,303.1 L346.0,303.1 L347.0,306.8 L348.0,304.0 L349.0,305.8 L350.0,303.0 L351.0,303.7 L352.0,303.9 L353.0,307.0 L354.0,304.8 L355.0,304.8 L356.0,306.6 L357.0,307.7 L358.0,308.4 L359.0,307.8 L360.0,310.0 L361.0,307.9 L362.0,305.1 L363.0,310.5 L364.0,310.6 L365.0,306.5 L366.0,311.3 L367.0,312.3 L368.0,311.1 L369.0,312.3 L370.0,309.6 L371.0,312.8 L372.0,309.4 L373.0,313.4 L374.0,314.6 L375.0,310.7 L376.0,313.7 L377.0,312.1 L378.0,311.0 L379.0,310.4 L380.0,314.2 L381.0,313.8 L382.0,315.0 L383.0,314.3 L384.0,316.0 L385.0,313.6 L386.0,314.6 L387.0,311.5 L388.0,315.3 L389.0,316.0 L390.0,315.8 L391.0,316.6 L392.0,317.9 L393.0,315.7 L394.0,316.2 L395.0,318.4 L396.0,317.0 L397.0,316.1 L398.0,319.0 L399.0,316.1 L400.0,318.8 L401.0,316.8 L402.0,318.1 L403.0,319.8 L404.0,320.1 L405.0,318.8 L406.0,319.3 L407.0,320.1 L408.0,320.4 L409.0,320.6 L410.0,318.5 L411.0,320.9 L412.0,318.7 L413.0,319.4 L414.0,320.4 L415.0,321.0 L416.0,318.6 L417.0,318.0 L418.0,320.0 L419.0,320.3 L420.0,320.6 L421.0,317.8 L422.0,320.7 L423.0,320.8 L424.0,320.3 L425.0,318.4 L426.0,318.8 L427.0,320.1 L428.0,318.8 L429.0,317.3 L430.0,319.7 L431.0,321.4 L432.0,322.0 L433.0,320.2 L434.0,319.6 L435.0,316.5 L436.0,320.8 L437.0,320.0 L438.0,318.6 L439.0,318.6 L440.0,318.9 L441.0,319.8 L442.0,318.7 L443.0,318.2 L444.0,318.4 L445.0,319.6 L446.0,321.0 L447.0,319.4 L448.0,320.9 L449.0,318.8 L450.0,322.1 L451.0,318.5 L452.0,321.1 L453.0,321.3 L454.0,321.3 L455.0,317.2 L456.0,320.7 L457.0,318.7 L458.0,316.7 L459.0,321.3 L460.0,319.1 L461.0,322.3 L462.0,322.2 L463.0,321.1 L464.0,320.1 L465.0,320.3 L466.0,322.3 L467.0,323.1 L468.0,322.0 L469.0,319.9 L470.0,319.7 L471.0,320.2 L472.0,325.1 L473.0,324.1 L474.0,323.0 L475.0,321.1 L476.0,324.2 L477.0,321.5 L478.0,317.2 L479.0,320.2 L480.0,318.6 L481.0,322.6 L482.0,321.0 L483.0,321.0 L484.0,316.9 L485.0,319.2 L486.0,319.2 L487.0,323.2 L488.0,322.3 L489.0,320.2 L490.0,319.4 L491.0,319.6 L492.0,319.9 L493.0,319.9 L494.0,318.6 L495.0,322.3 L496.0,323.8 L497.0,321.7 L498.0,315.9 L499.0,320.6 L500.0,323.0 L501.0,321.2" fill="none" stroke="#8c8c8c" stroke-opacity="0.72" stroke-width="2.2" stroke-dasharray="7 4" stroke-linejoin="round"/>
</g>
<g clip-path="url(#cc2)">
<path d="M66.0,330.2 L67.0,330.2 L68.0,330.2 L69.0,330.2 L70.0,330.2 L71.0,330.2 L72.0,330.2 L73.0,330.2 L74.0,330.2 L75.0,330.2 L76.0,330.2 L77.0,330.2 L78.0,330.2 L79.0,330.2 L80.0,330.2 L81.0,330.2 L82.0,330.2 L83.0,330.2 L84.0,330.2 L85.0,330.2 L86.0,330.2 L87.0,330.2 L88.0,329.2 L89.0,328.6 L90.0,328.9 L91.0,329.1 L92.0,329.1 L93.0,329.0 L94.0,328.6 L95.0,328.2 L96.0,329.3 L97.0,328.6 L98.0,324.2 L99.0,325.1 L100.0,326.0 L101.0,325.8 L102.0,323.9 L103.0,323.6 L104.0,321.8 L105.0,320.4 L106.0,318.9 L107.0,317.1 L108.0,314.6 L109.0,314.3 L110.0,311.2 L111.0,307.5 L112.0,304.9 L113.0,301.0 L114.0,298.6 L115.0,292.9 L116.0,290.4 L117.0,287.1 L118.0,282.5 L119.0,278.0 L120.0,272.1 L121.0,268.0 L122.0,262.0 L123.0,259.2 L124.0,253.2 L125.0,250.6 L126.0,245.8 L127.0,242.7 L128.0,238.5 L129.0,235.0 L130.0,231.7 L131.0,230.0 L132.0,225.3 L133.0,222.1 L134.0,217.8 L135.0,215.4 L136.0,211.2 L137.0,208.1 L138.0,203.4 L139.0,200.1 L140.0,198.5 L141.0,197.2 L142.0,193.4 L143.0,190.6 L144.0,185.6 L145.0,179.2 L146.0,178.8 L147.0,172.2 L148.0,169.0 L149.0,168.9 L150.0,167.0 L151.0,163.0 L152.0,162.7 L153.0,159.6 L154.0,155.8 L155.0,153.1 L156.0,150.4 L157.0,148.0 L158.0,146.2 L159.0,145.5 L160.0,140.7 L161.0,139.8 L162.0,137.0 L163.0,138.0 L164.0,132.3 L165.0,132.1 L166.0,132.2 L167.0,129.6 L168.0,128.3 L169.0,128.1 L170.0,127.2 L171.0,126.1 L172.0,123.9 L173.0,124.3 L174.0,121.9 L175.0,121.3 L176.0,120.5 L177.0,119.4 L178.0,118.3 L179.0,118.9 L180.0,119.2 L181.0,117.9 L182.0,118.0 L183.0,118.1 L184.0,117.9 L185.0,117.6 L186.0,117.5 L187.0,119.2 L188.0,117.2 L189.0,119.3 L190.0,118.7 L191.0,118.5 L192.0,118.4 L193.0,118.9 L194.0,120.4 L195.0,122.3 L196.0,121.7 L197.0,122.0 L198.0,121.2 L199.0,126.0 L200.0,127.4 L201.0,127.8 L202.0,131.9 L203.0,131.7 L204.0,132.6 L205.0,135.4 L206.0,135.1 L207.0,138.6 L208.0,136.4 L209.0,143.8 L210.0,146.2 L211.0,147.5 L212.0,151.2 L213.0,151.1 L214.0,154.9 L215.0,156.3 L216.0,156.5 L217.0,162.6 L218.0,166.9 L219.0,171.5 L220.0,169.2 L221.0,172.2 L222.0,177.1 L223.0,178.6 L224.0,183.4 L225.0,180.2 L226.0,184.1 L227.0,190.6 L228.0,189.6 L229.0,196.2 L230.0,197.4 L231.0,200.1 L232.0,200.3 L233.0,204.6 L234.0,210.3 L235.0,213.4 L236.0,212.8 L237.0,214.9 L238.0,217.9 L239.0,221.1 L240.0,224.2 L241.0,229.2 L242.0,226.8 L243.0,232.7 L244.0,234.3 L245.0,237.5 L246.0,237.0 L247.0,240.4 L248.0,247.3 L249.0,252.2 L250.0,249.0 L251.0,251.0 L252.0,257.1 L253.0,259.1 L254.0,258.0 L255.0,259.8 L256.0,261.7 L257.0,264.7 L258.0,266.3 L259.0,266.6 L260.0,268.0 L261.0,270.9 L262.0,275.5 L263.0,275.9 L264.0,275.8 L265.0,276.7 L266.0,283.2 L267.0,280.9 L268.0,281.7 L269.0,278.5 L270.0,280.3 L271.0,283.7 L272.0,286.8 L273.0,286.9 L274.0,291.3 L275.0,287.8 L276.0,289.9 L277.0,291.0 L278.0,294.7 L279.0,293.1 L280.0,298.4 L281.0,296.4 L282.0,297.6 L283.0,294.3 L284.0,298.1 L285.0,301.8 L286.0,299.8 L287.0,299.6 L288.0,300.6 L289.0,306.8 L290.0,305.0 L291.0,304.5 L292.0,304.8 L293.0,307.0 L294.0,308.9 L295.0,305.5 L296.0,306.1 L297.0,306.5 L298.0,309.4 L299.0,308.8 L300.0,310.1 L301.0,307.5 L302.0,314.3 L303.0,313.4 L304.0,309.7 L305.0,309.9 L306.0,313.0 L307.0,315.3 L308.0,314.9 L309.0,312.7 L310.0,312.4 L311.0,315.1 L312.0,317.5 L313.0,318.1 L314.0,313.9 L315.0,316.0 L316.0,317.4 L317.0,315.9 L318.0,318.7 L319.0,317.4 L320.0,312.6 L321.0,317.8 L322.0,319.5 L323.0,317.5 L324.0,316.4 L325.0,315.9 L326.0,317.8 L327.0,320.2 L328.0,319.4 L329.0,317.3 L330.0,319.7 L331.0,317.9 L332.0,320.4 L333.0,318.6 L334.0,322.1 L335.0,321.1 L336.0,323.9 L337.0,318.7 L338.0,321.9 L339.0,320.7 L340.0,323.0 L341.0,322.9 L342.0,321.9 L343.0,321.2 L344.0,320.8 L345.0,323.8 L346.0,324.2 L347.0,323.6 L348.0,324.3 L349.0,320.9 L350.0,323.4 L351.0,323.0 L352.0,324.4" fill="none" stroke="#000" stroke-width="3.2" stroke-linejoin="round"/>
<path d="M351.0,323.0 L352.0,324.4 L353.0,324.1 L354.0,320.8 L355.0,323.4 L356.0,324.3 L357.0,325.6 L358.0,325.7 L359.0,323.8 L360.0,325.6 L361.0,324.9 L362.0,326.1 L363.0,324.6 L364.0,325.8 L365.0,324.8 L366.0,324.3 L367.0,324.4 L368.0,325.5 L369.0,324.7 L370.0,322.3 L371.0,325.3 L372.0,325.9 L373.0,325.9 L374.0,324.2 L375.0,325.6 L376.0,326.1 L377.0,325.2 L378.0,326.6 L379.0,325.9 L380.0,324.4 L381.0,326.1 L382.0,325.5 L383.0,327.6 L384.0,325.4 L385.0,327.5 L386.0,326.3 L387.0,326.7 L388.0,326.3 L389.0,325.8 L390.0,325.6 L391.0,326.2 L392.0,327.7 L393.0,327.3 L394.0,325.2 L395.0,327.3 L396.0,324.2 L397.0,328.0 L398.0,326.9 L399.0,326.8 L400.0,324.9 L401.0,326.8 L402.0,325.6 L403.0,325.6 L404.0,324.4 L405.0,324.5 L406.0,326.3 L407.0,326.7 L408.0,327.2 L409.0,325.5 L410.0,325.3 L411.0,327.6 L412.0,327.3 L413.0,324.6 L414.0,327.0 L415.0,325.5 L416.0,325.5 L417.0,327.3 L418.0,326.2 L419.0,325.5 L420.0,325.1 L421.0,327.7 L422.0,323.9 L423.0,322.7 L424.0,324.7 L425.0,325.7 L426.0,324.9 L427.0,327.8 L428.0,325.0 L429.0,325.7 L430.0,326.1 L431.0,326.8 L432.0,324.7 L433.0,324.3 L434.0,324.7 L435.0,326.8 L436.0,325.9 L437.0,326.8 L438.0,325.2 L439.0,326.5 L440.0,326.4 L441.0,325.6 L442.0,327.0 L443.0,326.2 L444.0,326.4 L445.0,324.9 L446.0,326.9 L447.0,326.2 L448.0,326.9 L449.0,326.8 L450.0,326.2 L451.0,326.8 L452.0,328.0 L453.0,327.2 L454.0,326.4 L455.0,326.3 L456.0,327.2 L457.0,325.4 L458.0,326.6 L459.0,325.8 L460.0,324.9 L461.0,327.5 L462.0,327.7 L463.0,326.3 L464.0,326.2 L465.0,327.4 L466.0,326.7 L467.0,326.5 L468.0,328.5 L469.0,328.0 L470.0,324.9 L471.0,326.5 L472.0,326.9 L473.0,326.5 L474.0,327.5 L475.0,327.2 L476.0,325.2 L477.0,326.5 L478.0,324.9 L479.0,326.8 L480.0,325.6 L481.0,327.5 L482.0,326.9 L483.0,329.5 L484.0,327.0 L485.0,324.7 L486.0,329.1 L487.0,326.6 L488.0,328.0 L489.0,328.0 L490.0,324.4 L491.0,325.5 L492.0,325.7 L493.0,325.3 L494.0,322.9 L495.0,325.4 L496.0,326.1 L497.0,327.4 L498.0,326.1 L499.0,325.7 L500.0,325.8 L501.0,326.7" fill="none" stroke="#000" stroke-width="2.6" stroke-dasharray="1.9 11.1 1.9 11.4 2.5 9.3 3.0 8.6 2.1 6.3 1.7 10.2 2.4 6.1 3.3 6.9 2.3 7.1 2.8 9.1 2.7 6.9 2.1 6.8 2.2 6.0 1.8 11.7 3.4 6.3 1.5 6.4 2.9 10.5 1.5 9.0 1.5 8.6 2.8 11.9 2.0 10.6 3.2 11.5 1.5 8.3 3.5 7.8 3.1 8.8 3.0 8.4 1.6 5.6 1.7 6.8 3.4 9.4 3.1 9.0 2.8 10.7 3.4 11.4 3.1 5.7 2.2 5.2 2.6 10.6 1.6 6.3 2.2 6.7 3.1 7.5 2.8 8.5 2.7 11.6" stroke-linejoin="round"/>
<path d="M66.0,330.2 L67.0,330.2 L68.0,330.2 L69.0,330.2 L70.0,330.2 L71.0,330.2 L72.0,330.2 L73.0,330.2 L74.0,330.2 L75.0,330.2 L76.0,330.2 L77.0,330.2 L78.0,330.2 L79.0,330.2 L80.0,330.2 L81.0,330.2 L82.0,330.2 L83.0,330.2 L84.0,330.2 L85.0,330.2 L86.0,330.2 L87.0,330.2 L88.0,329.1 L89.0,329.0 L90.0,329.0 L91.0,328.5 L92.0,327.8 L93.0,327.0 L94.0,325.9 L95.0,323.8 L96.0,325.7 L97.0,320.1 L98.0,319.8 L99.0,317.0 L100.0,312.9 L101.0,308.0 L102.0,304.5 L103.0,298.0 L104.0,290.3 L105.0,283.5 L106.0,277.1 L107.0,268.8 L108.0,261.9 L109.0,258.1 L110.0,247.9 L111.0,242.6 L112.0,234.4 L113.0,230.1 L114.0,223.7 L115.0,219.2 L116.0,215.9 L117.0,211.5 L118.0,206.4 L119.0,203.8 L120.0,200.7 L121.0,197.4 L122.0,194.1 L123.0,193.0 L124.0,189.6 L125.0,189.7 L126.0,188.0 L127.0,185.9 L128.0,184.3 L129.0,186.4 L130.0,182.7 L131.0,183.7 L132.0,181.7 L133.0,182.9 L134.0,182.4 L135.0,182.6 L136.0,182.2 L137.0,181.4 L138.0,180.2 L139.0,181.0 L140.0,181.7 L141.0,182.0 L142.0,182.8 L143.0,182.1 L144.0,181.8 L145.0,182.9 L146.0,184.2 L147.0,184.6 L148.0,185.1 L149.0,185.2 L150.0,186.3 L151.0,187.9 L152.0,188.0 L153.0,189.7 L154.0,192.5 L155.0,192.2 L156.0,195.0 L157.0,193.6 L158.0,196.7 L159.0,198.5 L160.0,199.5 L161.0,201.9 L162.0,202.4 L163.0,204.0 L164.0,205.7 L165.0,206.2 L166.0,209.6 L167.0,209.4 L168.0,212.0 L169.0,213.3 L170.0,214.3 L171.0,216.1 L172.0,217.7 L173.0,217.5 L174.0,221.9 L175.0,220.7 L176.0,222.9 L177.0,225.3 L178.0,225.5 L179.0,228.3 L180.0,227.9 L181.0,230.6 L182.0,232.5 L183.0,235.2 L184.0,235.0 L185.0,237.4 L186.0,240.5 L187.0,240.9 L188.0,242.6 L189.0,243.7 L190.0,246.4 L191.0,245.5 L192.0,248.0 L193.0,249.8 L194.0,252.0 L195.0,253.5 L196.0,253.4 L197.0,256.9 L198.0,257.7 L199.0,262.3 L200.0,261.1 L201.0,264.3 L202.0,263.6 L203.0,265.3 L204.0,265.8 L205.0,266.5 L206.0,271.1 L207.0,269.0 L208.0,272.5 L209.0,274.2 L210.0,276.2 L211.0,275.0 L212.0,279.0 L213.0,276.7 L214.0,279.7 L215.0,279.9 L216.0,281.3 L217.0,281.0 L218.0,284.4 L219.0,288.4 L220.0,283.4 L221.0,285.5 L222.0,288.9 L223.0,288.5 L224.0,288.3 L225.0,291.3 L226.0,292.2 L227.0,288.6 L228.0,291.1 L229.0,293.7 L230.0,288.5 L231.0,295.5 L232.0,291.1 L233.0,294.9 L234.0,294.0 L235.0,293.9 L236.0,295.6 L237.0,295.4 L238.0,296.2 L239.0,298.7 L240.0,298.6 L241.0,296.5 L242.0,299.0 L243.0,301.1 L244.0,299.5 L245.0,299.4 L246.0,301.4 L247.0,300.1 L248.0,299.7 L249.0,304.2 L250.0,300.8 L251.0,302.9 L252.0,303.7 L253.0,303.2 L254.0,306.6 L255.0,307.1 L256.0,305.6 L257.0,303.6 L258.0,306.6 L259.0,304.3 L260.0,307.9 L261.0,306.6 L262.0,308.6 L263.0,310.4 L264.0,309.5 L265.0,308.6 L266.0,309.8 L267.0,312.4 L268.0,308.5 L269.0,312.3 L270.0,310.8 L271.0,316.0 L272.0,310.6 L273.0,310.9 L274.0,315.7 L275.0,316.0 L276.0,314.3 L277.0,315.5 L278.0,314.3 L279.0,316.2 L280.0,318.0 L281.0,317.7 L282.0,317.6 L283.0,317.3 L284.0,320.0 L285.0,321.3 L286.0,321.2 L287.0,317.8 L288.0,320.2 L289.0,319.1 L290.0,320.1 L291.0,321.4 L292.0,324.7 L293.0,321.8 L294.0,321.6 L295.0,321.1 L296.0,322.8 L297.0,320.1 L298.0,323.4 L299.0,323.9 L300.0,321.6 L301.0,325.2 L302.0,326.3 L303.0,322.3 L304.0,322.9 L305.0,323.1 L306.0,322.9 L307.0,325.2 L308.0,324.6 L309.0,322.6 L310.0,322.4 L311.0,324.9 L312.0,322.8 L313.0,322.2 L314.0,324.6 L315.0,324.5 L316.0,325.8 L317.0,328.0 L318.0,323.7 L319.0,325.3 L320.0,323.8 L321.0,325.8 L322.0,327.2 L323.0,329.1 L324.0,323.7 L325.0,328.3 L326.0,326.0 L327.0,326.4 L328.0,327.0 L329.0,328.9 L330.0,329.7 L331.0,327.0 L332.0,325.7 L333.0,325.4 L334.0,323.4 L335.0,324.4" fill="none" stroke="#000" stroke-width="3.2" stroke-dasharray="7.5 3.5" stroke-linejoin="round"/>
<path d="M335.0,324.4 L336.0,328.0 L337.0,324.3 L338.0,324.9 L339.0,325.8 L340.0,325.9 L341.0,325.6 L342.0,325.5 L343.0,325.9 L344.0,328.1 L345.0,327.5 L346.0,326.9 L347.0,326.0 L348.0,326.9 L349.0,327.1 L350.0,325.6 L351.0,325.5 L352.0,326.9 L353.0,325.9 L354.0,326.1 L355.0,326.7 L356.0,326.7 L357.0,324.8 L358.0,328.5 L359.0,325.1 L360.0,326.7 L361.0,325.9 L362.0,328.4 L363.0,326.8 L364.0,324.2 L365.0,325.0 L366.0,326.8 L367.0,327.0 L368.0,328.3 L369.0,327.3 L370.0,326.5 L371.0,327.4 L372.0,326.3 L373.0,327.6 L374.0,324.9 L375.0,328.6 L376.0,326.2 L377.0,327.6 L378.0,326.4 L379.0,325.2 L380.0,324.8 L381.0,327.1 L382.0,327.0 L383.0,327.1 L384.0,327.3 L385.0,326.3 L386.0,322.5 L387.0,326.2 L388.0,325.5 L389.0,326.2 L390.0,326.6 L391.0,326.6 L392.0,326.2 L393.0,327.1 L394.0,327.6 L395.0,327.4 L396.0,327.1 L397.0,327.1 L398.0,328.0 L399.0,326.8 L400.0,324.3 L401.0,326.4 L402.0,328.3 L403.0,324.4 L404.0,327.0 L405.0,326.2 L406.0,327.5 L407.0,327.3 L408.0,326.4 L409.0,326.8 L410.0,325.3 L411.0,329.1 L412.0,327.7 L413.0,326.1 L414.0,326.4 L415.0,326.6 L416.0,326.3 L417.0,326.0 L418.0,327.7 L419.0,326.7 L420.0,327.3 L421.0,327.4 L422.0,326.0 L423.0,328.3 L424.0,327.7 L425.0,325.9 L426.0,325.6 L427.0,327.1 L428.0,327.4 L429.0,325.9 L430.0,325.9 L431.0,326.8 L432.0,326.3 L433.0,327.4 L434.0,328.5 L435.0,328.7 L436.0,326.2 L437.0,327.1 L438.0,326.4 L439.0,327.0 L440.0,326.7 L441.0,328.3 L442.0,328.0 L443.0,326.0 L444.0,328.4 L445.0,325.8 L446.0,327.1 L447.0,327.5 L448.0,326.1 L449.0,326.3 L450.0,325.2 L451.0,328.0 L452.0,326.5 L453.0,328.8 L454.0,327.5 L455.0,326.2 L456.0,327.8 L457.0,326.7 L458.0,327.4 L459.0,327.9 L460.0,327.6 L461.0,328.6 L462.0,327.2 L463.0,327.5 L464.0,326.8 L465.0,325.0 L466.0,326.4 L467.0,326.5 L468.0,324.6 L469.0,326.8 L470.0,327.2 L471.0,327.6 L472.0,327.3 L473.0,328.0 L474.0,327.2 L475.0,325.2 L476.0,327.3 L477.0,326.1 L478.0,328.4 L479.0,325.8 L480.0,328.4 L481.0,325.6 L482.0,326.6 L483.0,326.0 L484.0,326.8 L485.0,326.5 L486.0,325.2 L487.0,325.3 L488.0,326.7 L489.0,325.4 L490.0,327.7 L491.0,328.2 L492.0,326.5 L493.0,330.3 L494.0,326.6 L495.0,325.7 L496.0,328.4 L497.0,327.7 L498.0,326.7 L499.0,326.9 L500.0,328.3 L501.0,328.8" fill="none" stroke="#000" stroke-width="2.6" stroke-dasharray="3.4 5.8 3.2 7.4 1.7 7.7 2.5 11.7 2.2 5.1 3.2 5.8 2.5 10.9 2.5 8.1 3.1 5.1 2.6 7.9 3.5 10.6 1.6 6.3 2.4 9.9 2.2 7.5 3.3 11.7 2.3 11.3 2.2 5.6 2.6 9.6 3.3 11.8 3.0 10.3 2.9 9.9 3.0 11.8 2.2 5.6 2.0 6.6 2.2 10.7 1.6 8.1 3.1 6.8 1.6 6.7 1.7 10.7 1.8 6.4 3.1 10.7 2.7 11.4 1.6 11.8 2.6 7.1 3.2 9.6 3.5 5.8 2.7 8.3 2.8 6.7 1.6 8.8 2.2 11.2" stroke-linejoin="round"/>
</g>
<path d="M68,328.9 L93,328.9" stroke="#f59a96" stroke-width="1.4" stroke-dasharray="2 1"/>
<path d="M67.5,329 L69,325.5 L71,329" stroke="#000" stroke-width="2" fill="none"/>
<line x1="66.00" y1="35.00" x2="66.00" y2="331.00" stroke="#000" stroke-width="2"/>
<line x1="61.00" y1="329.70" x2="66.00" y2="329.70" stroke="#000" stroke-width="2"/>
<line x1="61.00" y1="257.15" x2="66.00" y2="257.15" stroke="#000" stroke-width="2"/>
<line x1="61.00" y1="184.60" x2="66.00" y2="184.60" stroke="#000" stroke-width="2"/>
<line x1="61.00" y1="112.05" x2="66.00" y2="112.05" stroke="#000" stroke-width="2"/>
<line x1="61.00" y1="39.50" x2="66.00" y2="39.50" stroke="#000" stroke-width="2"/>
<line x1="66.00" y1="329.70" x2="66.00" y2="335.00" stroke="#000" stroke-width="2"/>
<line x1="211.00" y1="329.70" x2="211.00" y2="335.00" stroke="#000" stroke-width="2"/>
<line x1="356.00" y1="329.70" x2="356.00" y2="335.00" stroke="#000" stroke-width="2"/>
<line x1="501.00" y1="329.70" x2="501.00" y2="335.00" stroke="#000" stroke-width="2"/>
<text transform="translate(48.51,334.20) scale(1.0200,1)" font-size="12.8" fill="#222">0</text>
<text transform="translate(41.20,261.65) scale(1.0200,1)" font-size="12.8" fill="#222">50</text>
<text transform="translate(34.02,189.10) scale(1.0200,1)" font-size="12.8" fill="#222">100</text>
<text transform="translate(34.02,116.55) scale(1.0200,1)" font-size="12.8" fill="#222">150</text>
<text transform="translate(34.02,44.00) scale(1.0200,1)" font-size="12.8" fill="#222">200</text>
<text transform="translate(62.53,350.70) scale(1.0000,1)" font-size="12.4" fill="#222">0</text>
<text transform="translate(203.29,350.70) scale(1.1000,1)" font-size="12.4" fill="#222">20</text>
<text transform="translate(348.50,350.70) scale(1.1000,1)" font-size="12.4" fill="#222">40</text>
<text transform="translate(493.29,350.70) scale(1.1000,1)" font-size="12.4" fill="#222">60</text>
<text transform="translate(23.50,218.73) rotate(-90) scale(0.8324,1)" font-size="13.6" fill="#111" stroke="#111" stroke-width="0.45">Thrombin [nM]</text>
<text transform="translate(266.85,371.30) scale(0.7853,1)" font-size="13.6" fill="#111" stroke="#111" stroke-width="0.45">Minutes</text>
<line x1="251.00" y1="162.90" x2="266.20" y2="162.90" stroke="#f08a8a" stroke-width="2.2"/>
<text transform="translate(270.89,166.40) scale(1.0000,1)" font-size="11.9" fill="#1a1a1a">baseline</text>
<line x1="336.00" y1="162.80" x2="352.00" y2="162.80" stroke="#000" stroke-width="2.6"/>
<text transform="translate(355.70,166.30) scale(1.0475,1)" font-size="11.9" fill="#1a1a1a">d1 DMSO</text>
<line x1="336.00" y1="177.40" x2="352.00" y2="177.40" stroke="#9a9a9a" stroke-width="2.6"/>
<text transform="translate(355.74,180.90) scale(0.9642,1)" font-size="11.9" fill="#1a1a1a">d1 Rivaroxaban (in vitro)</text>
<line x1="336.00" y1="192.60" x2="352.00" y2="192.60" stroke="#000" stroke-width="2.6" stroke-dasharray="10 3.5 3 10"/>
<text transform="translate(355.70,195.70) scale(1.0475,1)" font-size="11.9" fill="#1a1a1a">d2 DMSO</text>
<line x1="336.00" y1="207.40" x2="352.00" y2="207.40" stroke="#a0a0a0" stroke-width="2.6" stroke-dasharray="10 3.5 3 10"/>
<text transform="translate(355.74,210.50) scale(0.9642,1)" font-size="11.9" fill="#1a1a1a">d2 Rivaroxaban (in vitro)</text>
<rect x="74.30" y="537.28" width="25.70" height="65.42" fill="#a3002b"/>
<line x1="87.15" y1="537.28" x2="87.15" y2="533.88" stroke="#000" stroke-width="1.8"/>
<line x1="83.45" y1="534.28" x2="90.85" y2="534.28" stroke="#000" stroke-width="1.9"/>
<rect x="115.00" y="530.29" width="25.30" height="72.41" fill="#2f4a7e"/>
<line x1="127.65" y1="530.29" x2="127.65" y2="525.91" stroke="#000" stroke-width="1.8"/>
<line x1="123.95" y1="526.31" x2="131.35" y2="526.31" stroke="#000" stroke-width="1.9"/>
<rect x="140.30" y="505.99" width="25.90" height="96.71" fill="#68a743"/>
<line x1="153.25" y1="505.99" x2="153.25" y2="501.61" stroke="#000" stroke-width="1.8"/>
<line x1="149.55" y1="502.01" x2="156.95" y2="502.01" stroke="#000" stroke-width="1.9"/>
<rect x="181.00" y="534.85" width="25.50" height="67.85" fill="#2f4a7e"/>
<line x1="193.75" y1="534.85" x2="193.75" y2="530.48" stroke="#000" stroke-width="1.8"/>
<line x1="190.05" y1="530.88" x2="197.45" y2="530.88" stroke="#000" stroke-width="1.9"/>
<rect x="206.50" y="503.07" width="26.00" height="99.63" fill="#68a743"/>
<line x1="219.50" y1="503.07" x2="219.50" y2="495.29" stroke="#000" stroke-width="1.8"/>
<line x1="215.80" y1="495.69" x2="223.20" y2="495.69" stroke="#000" stroke-width="1.9"/>
<line x1="65.50" y1="403.30" x2="65.50" y2="603.70" stroke="#000" stroke-width="2"/>
<line x1="64.50" y1="602.70" x2="248.75" y2="602.70" stroke="#000" stroke-width="2.2"/>
<line x1="60.50" y1="602.70" x2="65.50" y2="602.70" stroke="#000" stroke-width="2"/>
<text transform="translate(48.56,606.80) scale(1.1000,1)" font-size="11.6" fill="#222">0</text>
<line x1="60.50" y1="554.10" x2="65.50" y2="554.10" stroke="#000" stroke-width="2"/>
<text transform="translate(48.56,558.20) scale(1.1000,1)" font-size="11.6" fill="#222">5</text>
<line x1="60.50" y1="505.50" x2="65.50" y2="505.50" stroke="#000" stroke-width="2"/>
<text transform="translate(41.42,509.60) scale(1.1000,1)" font-size="11.6" fill="#222">10</text>
<line x1="60.50" y1="456.90" x2="65.50" y2="456.90" stroke="#000" stroke-width="2"/>
<text transform="translate(41.42,461.00) scale(1.1000,1)" font-size="11.6" fill="#222">15</text>
<line x1="60.50" y1="408.30" x2="65.50" y2="408.30" stroke="#000" stroke-width="2"/>
<text transform="translate(41.42,412.40) scale(1.1000,1)" font-size="11.6" fill="#222">20</text>
<text transform="translate(141.26,479.34) scale(1.0000,1)" font-size="13.75" font-weight="bold" font-family="Liberation Serif" letter-spacing="1.72" fill="#1a1a1a">###</text>
<ellipse cx="151.20" cy="487.40" rx="1.45" ry="1.35" fill="#111"/>
<ellipse cx="155.40" cy="487.40" rx="1.45" ry="1.35" fill="#111"/>
<text transform="translate(207.56,473.74) scale(1.0000,1)" font-size="14.06" font-weight="bold" font-family="Liberation Serif" letter-spacing="1.35" fill="#1a1a1a">###</text>
<ellipse cx="216.80" cy="481.35" rx="1.45" ry="1.35" fill="#111"/>
<ellipse cx="222.40" cy="481.35" rx="1.45" ry="1.35" fill="#111"/>
<text transform="translate(63.75,618.75) scale(1.0189,1)" font-size="12.2" fill="#1a1a1a">baseline</text>
<text transform="translate(132.70,618.75) scale(1.0266,1)" font-size="12.2" fill="#1a1a1a">d1</text>
<text transform="translate(199.30,618.75) scale(1.0345,1)" font-size="12.2" fill="#1a1a1a">d2</text>
<line x1="74.50" y1="626.80" x2="232.70" y2="626.80" stroke="#000" stroke-width="1.6"/>
<text transform="translate(113.36,642.70) scale(1.0621,1)" font-size="12.2" fill="#1a1a1a">10 µg/ml CRP</text>
<line x1="114.60" y1="651.60" x2="232.70" y2="651.60" stroke="#000" stroke-width="1.6"/>
<text transform="translate(146.35,667.80) scale(1.0180,1)" font-size="12.2" fill="#1a1a1a">Ticagrelor</text>
<text transform="translate(32.20,547.50) rotate(-90) scale(0.7476,1)" font-size="15" fill="#111" stroke="#111" stroke-width="0.45">Lagtime [minutes]</text>
<rect x="319.30" y="538.70" width="25.70" height="63.80" fill="#a3002b"/>
<line x1="332.15" y1="538.70" x2="332.15" y2="535.78" stroke="#000" stroke-width="1.8"/>
<line x1="328.45" y1="536.18" x2="335.85" y2="536.18" stroke="#000" stroke-width="1.9"/>
<rect x="360.00" y="522.63" width="25.30" height="79.87" fill="#2f4a7e"/>
<line x1="372.65" y1="522.63" x2="372.65" y2="518.74" stroke="#000" stroke-width="1.8"/>
<line x1="368.95" y1="519.14" x2="376.35" y2="519.14" stroke="#000" stroke-width="1.9"/>
<rect x="385.30" y="474.91" width="25.90" height="127.59" fill="#68a743"/>
<line x1="398.25" y1="474.91" x2="398.25" y2="468.57" stroke="#000" stroke-width="1.8"/>
<line x1="394.55" y1="468.97" x2="401.95" y2="468.97" stroke="#000" stroke-width="1.9"/>
<rect x="426.00" y="527.99" width="25.50" height="74.51" fill="#2f4a7e"/>
<line x1="438.75" y1="527.99" x2="438.75" y2="522.14" stroke="#000" stroke-width="1.8"/>
<line x1="435.05" y1="522.54" x2="442.45" y2="522.54" stroke="#000" stroke-width="1.9"/>
<rect x="451.50" y="479.78" width="26.00" height="122.72" fill="#68a743"/>
<line x1="464.50" y1="479.78" x2="464.50" y2="467.11" stroke="#000" stroke-width="1.8"/>
<line x1="460.80" y1="467.51" x2="468.20" y2="467.51" stroke="#000" stroke-width="1.9"/>
<line x1="310.50" y1="402.70" x2="310.50" y2="603.50" stroke="#000" stroke-width="2"/>
<line x1="309.50" y1="602.50" x2="493.75" y2="602.50" stroke="#000" stroke-width="2.2"/>
<line x1="305.50" y1="602.50" x2="310.50" y2="602.50" stroke="#000" stroke-width="2"/>
<text transform="translate(293.76,606.60) scale(1.1000,1)" font-size="11.6" fill="#222">0</text>
<line x1="305.50" y1="553.80" x2="310.50" y2="553.80" stroke="#000" stroke-width="2"/>
<text transform="translate(286.62,557.90) scale(1.1000,1)" font-size="11.6" fill="#222">10</text>
<line x1="305.50" y1="505.10" x2="310.50" y2="505.10" stroke="#000" stroke-width="2"/>
<text transform="translate(286.62,509.20) scale(1.1000,1)" font-size="11.6" fill="#222">20</text>
<line x1="305.50" y1="456.40" x2="310.50" y2="456.40" stroke="#000" stroke-width="2"/>
<text transform="translate(286.62,460.50) scale(1.1000,1)" font-size="11.6" fill="#222">30</text>
<line x1="305.50" y1="407.70" x2="310.50" y2="407.70" stroke="#000" stroke-width="2"/>
<text transform="translate(286.62,411.80) scale(1.1000,1)" font-size="11.6" fill="#222">40</text>
<text transform="translate(386.96,446.34) scale(1.0000,1)" font-size="13.91" font-weight="bold" font-family="Liberation Serif" letter-spacing="0.96" fill="#1a1a1a">###</text>
<ellipse cx="393.30" cy="454.45" rx="1.45" ry="1.35" fill="#111"/>
<ellipse cx="398.25" cy="454.45" rx="1.45" ry="1.35" fill="#111"/>
<ellipse cx="403.20" cy="454.45" rx="1.45" ry="1.35" fill="#111"/>
<text transform="translate(452.56,444.74) scale(1.0000,1)" font-size="13.75" font-weight="bold" font-family="Liberation Serif" letter-spacing="1.57" fill="#1a1a1a">###</text>
<ellipse cx="459.90" cy="452.50" rx="1.45" ry="1.35" fill="#111"/>
<ellipse cx="464.85" cy="452.50" rx="1.45" ry="1.35" fill="#111"/>
<ellipse cx="469.80" cy="452.50" rx="1.45" ry="1.35" fill="#111"/>
<text transform="translate(308.75,618.75) scale(1.0189,1)" font-size="12.2" fill="#1a1a1a">baseline</text>
<text transform="translate(377.70,618.75) scale(1.0266,1)" font-size="12.2" fill="#1a1a1a">d1</text>
<text transform="translate(444.30,618.75) scale(1.0345,1)" font-size="12.2" fill="#1a1a1a">d2</text>
<line x1="319.50" y1="626.80" x2="477.70" y2="626.80" stroke="#000" stroke-width="1.6"/>
<text transform="translate(358.36,642.70) scale(1.0621,1)" font-size="12.2" fill="#1a1a1a">10 µg/ml CRP</text>
<line x1="359.60" y1="651.60" x2="477.70" y2="651.60" stroke="#000" stroke-width="1.6"/>
<text transform="translate(391.35,667.80) scale(1.0180,1)" font-size="12.2" fill="#1a1a1a">Ticagrelor</text>
<text transform="translate(275.60,558.02) rotate(-90) scale(0.8082,1)" font-size="13.6" fill="#111" stroke="#111" stroke-width="0.45">Time to peak [minutes]</text>
<rect x="368.00" y="681.00" width="13.30" height="11.50" fill="#2f4a7e"/>
<rect x="368.00" y="699.20" width="13.30" height="11.50" fill="#68a743"/>
<text transform="translate(385.71,690.40) scale(1.0693,1)" font-size="11.6" fill="#1a1a1a">DMSO</text>
<text transform="translate(385.69,708.70) scale(0.9885,1)" font-size="11.5" fill="#1a1a1a">Rivaroxaban (<tspan font-style="italic">in vitro</tspan>)</text>
<rect x="79.30" y="777.99" width="25.70" height="144.31" fill="#a3002b"/>
<line x1="92.15" y1="777.99" x2="92.15" y2="766.37" stroke="#000" stroke-width="1.8"/>
<line x1="88.45" y1="766.77" x2="95.85" y2="766.77" stroke="#000" stroke-width="1.9"/>
<rect x="120.00" y="799.98" width="25.30" height="122.32" fill="#2f4a7e"/>
<line x1="132.65" y1="799.98" x2="132.65" y2="791.94" stroke="#000" stroke-width="1.8"/>
<line x1="128.95" y1="792.34" x2="136.35" y2="792.34" stroke="#000" stroke-width="1.9"/>
<rect x="145.30" y="853.34" width="25.90" height="68.96" fill="#68a743"/>
<line x1="158.25" y1="853.34" x2="158.25" y2="847.14" stroke="#000" stroke-width="1.8"/>
<line x1="154.55" y1="847.54" x2="161.95" y2="847.54" stroke="#000" stroke-width="1.9"/>
<rect x="186.00" y="818.28" width="25.50" height="104.02" fill="#2f4a7e"/>
<line x1="198.75" y1="818.28" x2="198.75" y2="808.11" stroke="#000" stroke-width="1.8"/>
<line x1="195.05" y1="808.51" x2="202.45" y2="808.51" stroke="#000" stroke-width="1.9"/>
<rect x="211.50" y="868.74" width="26.00" height="53.56" fill="#68a743"/>
<line x1="224.50" y1="868.74" x2="224.50" y2="859.15" stroke="#000" stroke-width="1.8"/>
<line x1="220.80" y1="859.55" x2="228.20" y2="859.55" stroke="#000" stroke-width="1.9"/>
<line x1="65.80" y1="723.70" x2="65.80" y2="923.30" stroke="#000" stroke-width="2"/>
<line x1="64.80" y1="922.30" x2="253.75" y2="922.30" stroke="#000" stroke-width="2.2"/>
<line x1="60.80" y1="922.30" x2="65.80" y2="922.30" stroke="#000" stroke-width="2"/>
<text transform="translate(48.96,926.40) scale(1.1000,1)" font-size="11.6" fill="#222">0</text>
<line x1="60.80" y1="873.88" x2="65.80" y2="873.88" stroke="#000" stroke-width="2"/>
<text transform="translate(41.82,877.98) scale(1.1000,1)" font-size="11.6" fill="#222">50</text>
<line x1="60.80" y1="825.45" x2="65.80" y2="825.45" stroke="#000" stroke-width="2"/>
<text transform="translate(34.80,829.55) scale(1.1000,1)" font-size="11.6" fill="#222">100</text>
<line x1="60.80" y1="777.02" x2="65.80" y2="777.02" stroke="#000" stroke-width="2"/>
<text transform="translate(34.80,781.12) scale(1.1000,1)" font-size="11.6" fill="#222">150</text>
<line x1="60.80" y1="728.60" x2="65.80" y2="728.60" stroke="#000" stroke-width="2"/>
<text transform="translate(34.80,732.70) scale(1.1000,1)" font-size="11.6" fill="#222">200</text>
<text transform="translate(146.96,825.64) scale(1.0000,1)" font-size="13.75" font-weight="bold" font-family="Liberation Serif" letter-spacing="1.07" fill="#1a1a1a">###</text>
<ellipse cx="154.20" cy="833.40" rx="1.45" ry="1.35" fill="#111"/>
<ellipse cx="158.50" cy="833.40" rx="1.45" ry="1.35" fill="#111"/>
<ellipse cx="162.80" cy="833.40" rx="1.45" ry="1.35" fill="#111"/>
<text transform="translate(213.36,837.04) scale(1.0000,1)" font-size="13.75" font-weight="bold" font-family="Liberation Serif" letter-spacing="1.32" fill="#1a1a1a">###</text>
<ellipse cx="222.60" cy="845.15" rx="1.45" ry="1.35" fill="#111"/>
<ellipse cx="226.70" cy="845.15" rx="1.45" ry="1.35" fill="#111"/>
<text transform="translate(68.75,938.75) scale(1.0189,1)" font-size="12.2" fill="#1a1a1a">baseline</text>
<text transform="translate(137.70,938.75) scale(1.0266,1)" font-size="12.2" fill="#1a1a1a">d1</text>
<text transform="translate(204.30,938.75) scale(1.0345,1)" font-size="12.2" fill="#1a1a1a">d2</text>
<line x1="79.50" y1="946.80" x2="237.70" y2="946.80" stroke="#000" stroke-width="1.6"/>
<text transform="translate(118.36,962.70) scale(1.0621,1)" font-size="12.2" fill="#1a1a1a">10 µg/ml CRP</text>
<line x1="119.60" y1="971.60" x2="237.70" y2="971.60" stroke="#000" stroke-width="1.6"/>
<text transform="translate(151.35,987.80) scale(1.0180,1)" font-size="12.2" fill="#1a1a1a">Ticagrelor</text>
<text transform="translate(23.80,859.62) rotate(-90) scale(0.8243,1)" font-size="13.6" fill="#111" stroke="#111" stroke-width="0.45">Thrombin [nM]</text>
<rect x="329.30" y="793.56" width="25.70" height="128.74" fill="#a3002b"/>
<line x1="342.15" y1="793.56" x2="342.15" y2="776.13" stroke="#000" stroke-width="1.8"/>
<line x1="338.45" y1="776.53" x2="345.85" y2="776.53" stroke="#000" stroke-width="1.9"/>
<rect x="370.00" y="845.34" width="25.30" height="76.96" fill="#2f4a7e"/>
<line x1="382.65" y1="845.34" x2="382.65" y2="836.63" stroke="#000" stroke-width="1.8"/>
<line x1="378.95" y1="837.03" x2="386.35" y2="837.03" stroke="#000" stroke-width="1.9"/>
<rect x="395.30" y="897.13" width="25.90" height="25.17" fill="#68a743"/>
<line x1="408.25" y1="897.13" x2="408.25" y2="893.02" stroke="#000" stroke-width="1.8"/>
<line x1="404.55" y1="893.42" x2="411.95" y2="893.42" stroke="#000" stroke-width="1.9"/>
<rect x="436.00" y="862.28" width="25.50" height="60.02" fill="#2f4a7e"/>
<line x1="448.75" y1="862.28" x2="448.75" y2="852.60" stroke="#000" stroke-width="1.8"/>
<line x1="445.05" y1="853.00" x2="452.45" y2="853.00" stroke="#000" stroke-width="1.9"/>
<rect x="461.50" y="900.52" width="26.00" height="21.78" fill="#68a743"/>
<line x1="474.50" y1="900.52" x2="474.50" y2="895.68" stroke="#000" stroke-width="1.8"/>
<line x1="470.80" y1="896.08" x2="478.20" y2="896.08" stroke="#000" stroke-width="1.9"/>
<line x1="315.80" y1="723.70" x2="315.80" y2="923.30" stroke="#000" stroke-width="2"/>
<line x1="314.80" y1="922.30" x2="503.75" y2="922.30" stroke="#000" stroke-width="2.2"/>
<line x1="310.80" y1="922.30" x2="315.80" y2="922.30" stroke="#000" stroke-width="2"/>
<text transform="translate(298.36,926.40) scale(1.1000,1)" font-size="11.6" fill="#222">0</text>
<line x1="310.80" y1="873.90" x2="315.80" y2="873.90" stroke="#000" stroke-width="2"/>
<text transform="translate(291.22,878.00) scale(1.1000,1)" font-size="11.6" fill="#222">10</text>
<line x1="310.80" y1="825.50" x2="315.80" y2="825.50" stroke="#000" stroke-width="2"/>
<text transform="translate(291.22,829.60) scale(1.1000,1)" font-size="11.6" fill="#222">20</text>
<line x1="310.80" y1="777.10" x2="315.80" y2="777.10" stroke="#000" stroke-width="2"/>
<text transform="translate(291.22,781.20) scale(1.1000,1)" font-size="11.6" fill="#222">30</text>
<line x1="310.80" y1="728.70" x2="315.80" y2="728.70" stroke="#000" stroke-width="2"/>
<text transform="translate(291.22,732.80) scale(1.1000,1)" font-size="11.6" fill="#222">40</text>
<text transform="translate(396.76,871.34) scale(1.0000,1)" font-size="13.91" font-weight="bold" font-family="Liberation Serif" letter-spacing="1.06" fill="#1a1a1a">###</text>
<ellipse cx="405.60" cy="879.05" rx="1.45" ry="1.35" fill="#111"/>
<ellipse cx="410.90" cy="879.05" rx="1.45" ry="1.35" fill="#111"/>
<text transform="translate(462.96,887.84) scale(1.0000,1)" font-size="13.91" font-weight="bold" font-family="Liberation Serif" letter-spacing="1.26" fill="#1a1a1a">###</text>
<text transform="translate(318.75,938.75) scale(1.0189,1)" font-size="12.2" fill="#1a1a1a">baseline</text>
<text transform="translate(387.70,938.75) scale(1.0266,1)" font-size="12.2" fill="#1a1a1a">d1</text>
<text transform="translate(454.30,938.75) scale(1.0345,1)" font-size="12.2" fill="#1a1a1a">d2</text>
<line x1="329.50" y1="946.80" x2="487.70" y2="946.80" stroke="#000" stroke-width="1.6"/>
<text transform="translate(368.36,962.70) scale(1.0621,1)" font-size="12.2" fill="#1a1a1a">10 µg/ml CRP</text>
<line x1="369.60" y1="971.60" x2="487.70" y2="971.60" stroke="#000" stroke-width="1.6"/>
<text transform="translate(401.35,987.80) scale(1.0180,1)" font-size="12.2" fill="#1a1a1a">Ticagrelor</text>
<text transform="translate(281.20,876.91) rotate(-90) scale(0.8232,1)" font-size="13.6" fill="#111" stroke="#111" stroke-width="0.45">Velocity [nM/minutes]</text>
</svg>
</body></html>
